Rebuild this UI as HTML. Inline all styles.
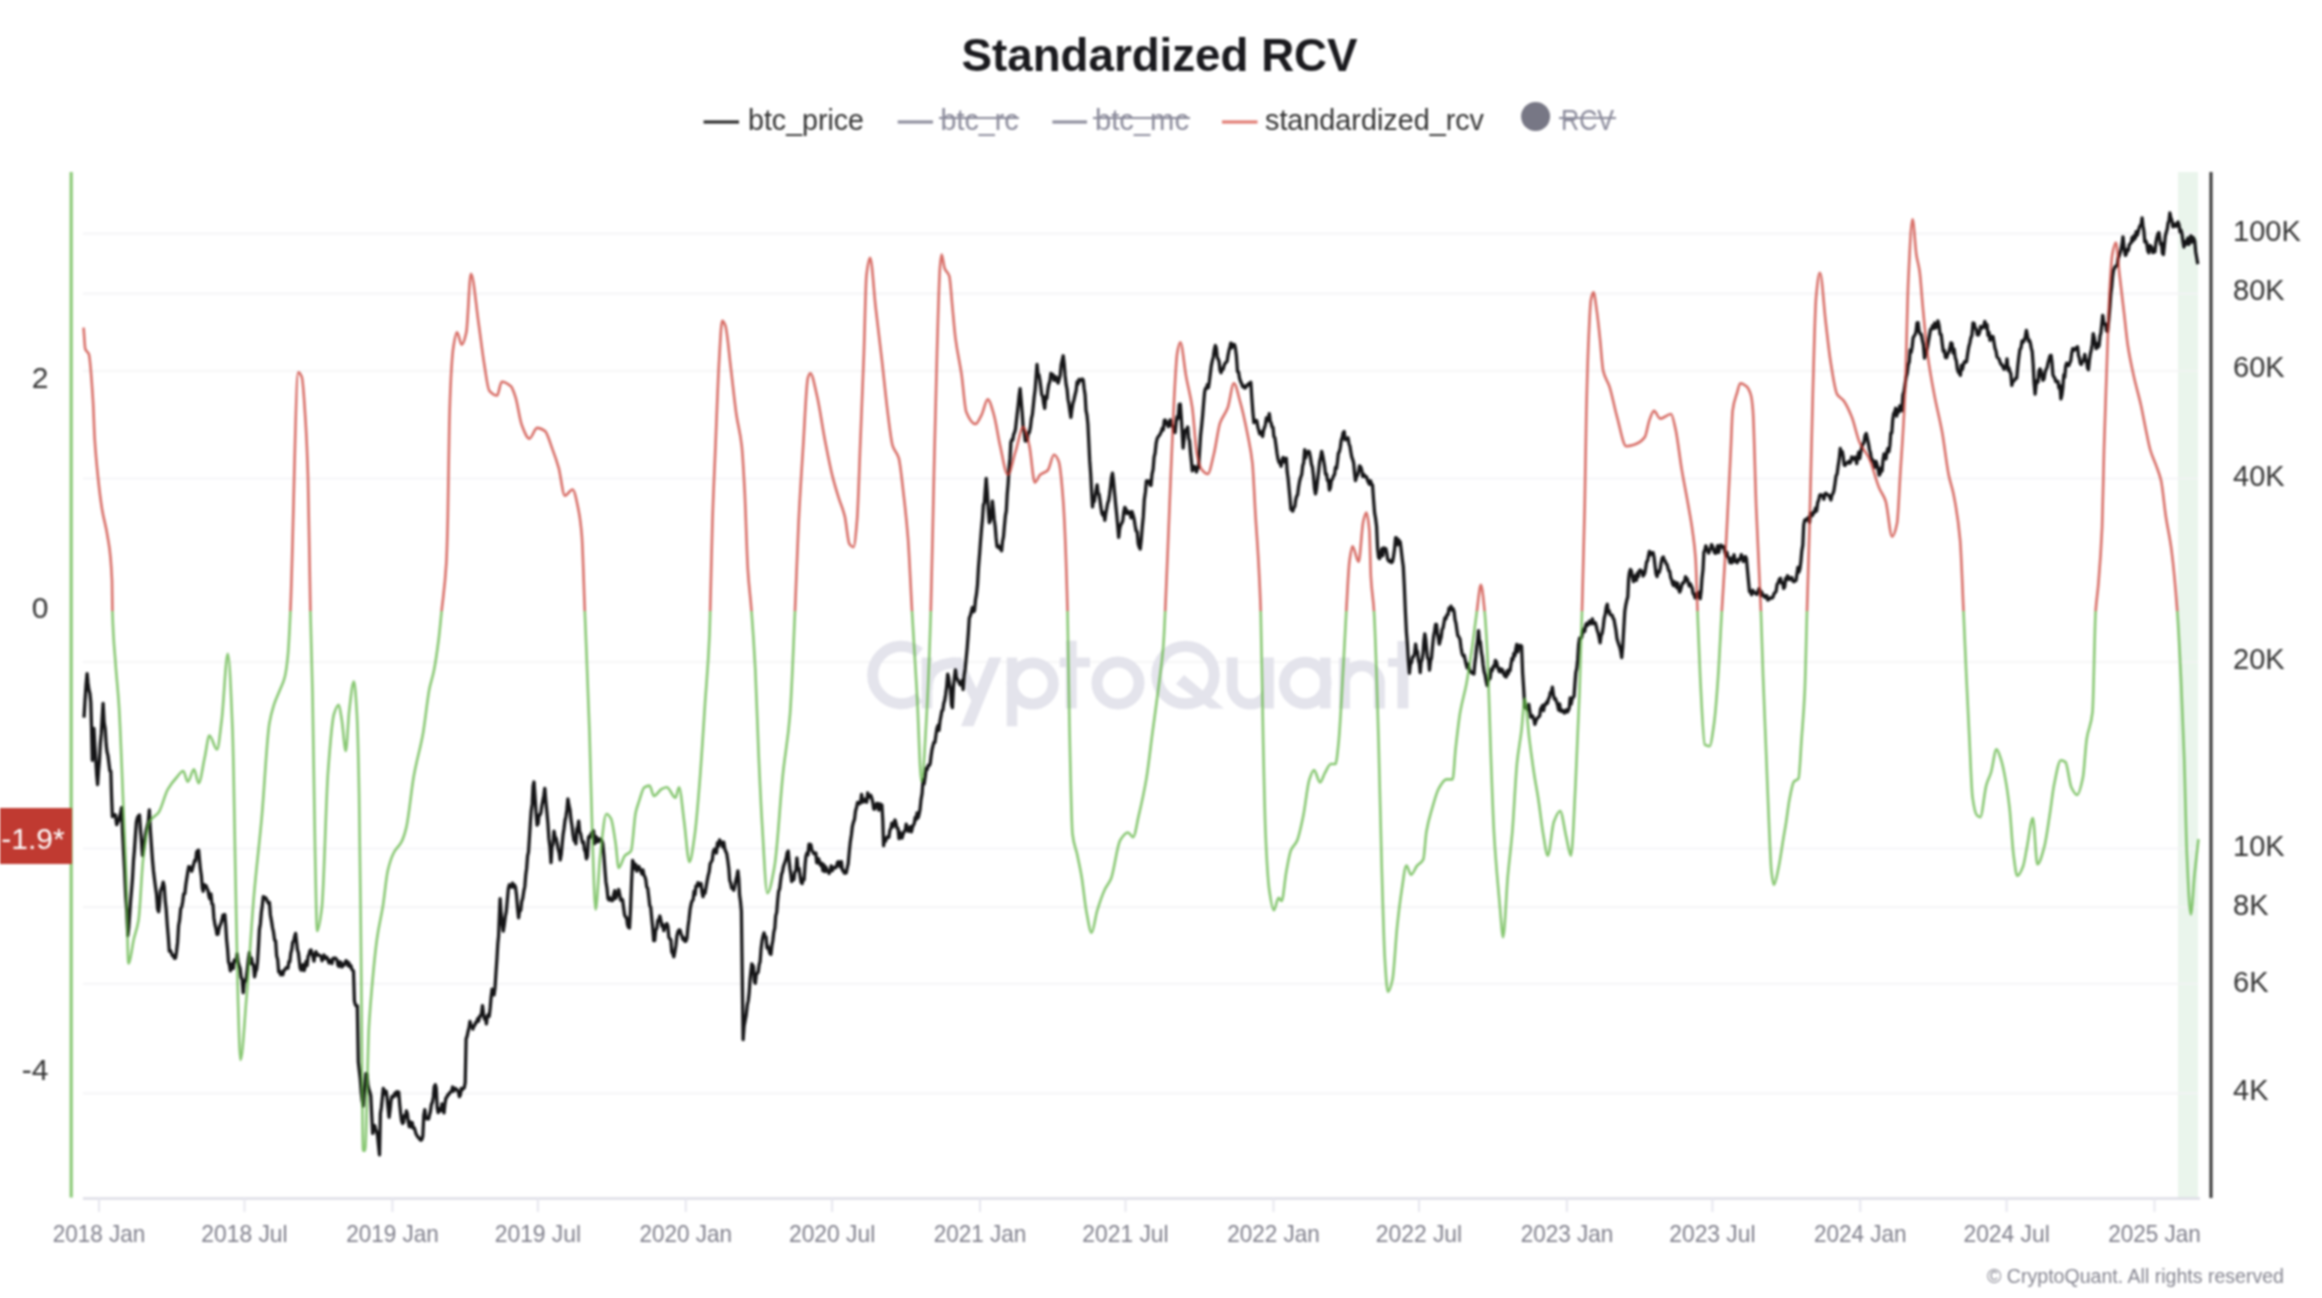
<!DOCTYPE html><html><head><meta charset="utf-8"><title>Standardized RCV</title>
<style>html,body{margin:0;padding:0;background:#fff;}body{width:2322px;height:1298px;overflow:hidden;}svg{display:block;font-family:"Liberation Sans",sans-serif;}#wrap{filter:blur(1px);width:2322px;height:1298px;}</style></head><body>
<div id="wrap">
<svg width="2322" height="1298" viewBox="0 0 2322 1298">
<defs><clipPath id="above"><rect x="0" y="0" width="2322" height="611"/></clipPath><clipPath id="below"><rect x="0" y="611" width="2322" height="700"/></clipPath></defs>
<rect x="0" y="0" width="2322" height="1298" fill="#ffffff"/>
<text x="1159.6" y="71.2" text-anchor="middle" font-size="46" font-weight="bold" fill="#1a1a1e" textLength="396" lengthAdjust="spacingAndGlyphs">Standardized RCV</text>
<g font-size="30">
<line x1="703.6" y1="122" x2="739" y2="122" stroke="#222" stroke-width="3"/>
<text x="748" y="130.4" fill="#333" textLength="116" lengthAdjust="spacingAndGlyphs">btc_price</text>
<line x1="897.7" y1="122" x2="933" y2="122" stroke="#8a8a9a" stroke-width="3"/>
<text x="940.5" y="130.4" fill="#8a8a9a" textLength="78" lengthAdjust="spacingAndGlyphs">btc_rc</text>
<line x1="939" y1="118" x2="1019" y2="118" stroke="#8a8a9a" stroke-width="2"/>
<line x1="1052.4" y1="122" x2="1087" y2="122" stroke="#8a8a9a" stroke-width="3"/>
<text x="1095" y="130.4" fill="#8a8a9a" textLength="94" lengthAdjust="spacingAndGlyphs">btc_mc</text>
<line x1="1093" y1="118" x2="1190" y2="118" stroke="#8a8a9a" stroke-width="2"/>
<line x1="1222" y1="122" x2="1257.5" y2="122" stroke="#e0766d" stroke-width="3"/>
<text x="1265" y="130.4" fill="#333" textLength="219" lengthAdjust="spacingAndGlyphs">standardized_rcv</text>
<circle cx="1535.6" cy="116.5" r="14.5" fill="#777785"/>
<text x="1561" y="130.4" fill="#8a8a9a" textLength="53" lengthAdjust="spacingAndGlyphs">RCV</text>
<line x1="1559" y1="118" x2="1616" y2="118" stroke="#8a8a9a" stroke-width="2"/>
</g>
<rect x="2178" y="172" width="20" height="1026" fill="#eaf5ec"/>
<line x1="83" y1="233.6" x2="2198" y2="233.6" stroke="#f3f3f5" stroke-width="1.6"/>
<line x1="83" y1="293.6" x2="2198" y2="293.6" stroke="#f3f3f5" stroke-width="1.6"/>
<line x1="83" y1="371" x2="2198" y2="371" stroke="#f3f3f5" stroke-width="1.6"/>
<line x1="83" y1="478.5" x2="2198" y2="478.5" stroke="#f3f3f5" stroke-width="1.6"/>
<line x1="83" y1="662" x2="2198" y2="662" stroke="#f3f3f5" stroke-width="1.6"/>
<line x1="83" y1="848.5" x2="2198" y2="848.5" stroke="#f3f3f5" stroke-width="1.6"/>
<line x1="83" y1="907.1" x2="2198" y2="907.1" stroke="#f3f3f5" stroke-width="1.6"/>
<line x1="83" y1="983.8" x2="2198" y2="983.8" stroke="#f3f3f5" stroke-width="1.6"/>
<line x1="83" y1="1093.4" x2="2198" y2="1093.4" stroke="#f3f3f5" stroke-width="1.6"/>
<g fill="#e4e4ec" stroke="none"><rect x="921.7" y="657.6" width="10.5" height="50.8"/><rect x="1006.8" y="657.6" width="10.4" height="68.7"/><rect x="1065.8" y="640.7" width="10.9" height="67.7"/><rect x="1059.8" y="657.6" width="30.2" height="9.6"/><rect x="1319.9" y="657.6" width="10.6" height="50.8"/><rect x="1339.0" y="657.6" width="10.8" height="50.8"/><rect x="1397.4" y="641.0" width="11.0" height="67.4"/><rect x="1388.0" y="658.2" width="24.0" height="8.6"/><polygon points="950,657.6 961.5,657.6 982,700 976.5,711"/><polygon points="989,657.6 1001.5,657.6 973.5,726.3 961,726.3"/><polygon points="1176,684 1184,675 1224,708.6 1210,708.6"/></g>
<g fill="none" stroke="#e4e4ec" stroke-width="11"><path d="M919.5,652.5 A28.8,28.8 0 1 0 919.5,697.5"/><path d="M927,690 C927,672 936,663 956,663"/><circle cx="1032.7" cy="683.5" r="20.5"/><circle cx="1118" cy="683" r="21"/><circle cx="1185.5" cy="675" r="28.7"/><path d="M1232.2,657.6 V686 A18.1,18.1 0 0 0 1268.4,686 M1268.4,657.6 V708.4"/><circle cx="1305.2" cy="683" r="20.8"/><path d="M1344.4,708.4 V681.5 A17.6,17.6 0 0 1 1379.4,681.5 V708.4"/></g>
<polyline points="84.0,717.6 85.0,700.8 86.1,684.4 87.1,673.7 88.0,683.0 88.9,689.8 89.9,693.5 90.8,702.4 91.5,725.5 92.3,760.3 93.1,744.6 93.9,728.3 94.8,745.1 95.8,759.9 96.7,774.9 97.6,784.5 98.5,771.5 99.4,760.8 100.3,744.0 101.3,733.7 102.2,717.5 103.1,703.4 104.1,722.3 105.2,728.9 106.2,745.0 107.1,752.2 108.0,755.7 109.0,763.9 109.9,771.1 110.8,771.1 111.6,796.9 112.4,816.6 113.4,814.8 114.4,814.7 115.4,814.9 116.7,824.7 117.9,821.8 118.8,820.3 119.8,815.9 120.7,812.8 121.6,807.6 122.6,833.0 123.7,853.8 124.7,872.5 125.7,895.8 126.8,911.4 127.8,935.5 128.7,927.8 129.7,913.9 130.6,901.0 131.5,890.9 132.5,878.5 133.5,860.5 134.4,850.5 135.4,835.9 136.4,822.2 137.4,817.8 138.5,815.9 139.5,815.0 140.5,829.7 141.5,841.9 142.5,855.4 143.5,848.9 144.4,842.8 145.4,835.0 146.4,829.4 147.4,825.3 148.3,821.9 149.3,809.9 150.3,829.7 151.4,845.0 152.4,859.2 153.4,870.2 154.5,879.4 155.5,887.0 156.5,894.0 157.6,909.0 158.6,911.7 159.5,904.9 160.4,891.5 161.4,888.6 162.3,886.2 163.2,882.1 164.2,886.7 165.2,900.6 166.2,909.6 167.3,925.3 168.3,936.9 169.3,951.2 170.3,950.5 171.4,953.0 172.4,955.6 173.4,955.5 174.5,958.4 175.5,957.9 176.5,951.7 177.6,942.2 178.6,925.5 179.6,920.3 180.7,908.6 181.7,907.0 182.7,901.7 183.7,893.8 184.8,893.7 185.8,884.8 186.8,878.3 187.8,871.9 188.8,866.6 189.8,868.2 190.7,867.3 191.7,871.2 192.7,867.8 193.7,864.1 194.7,860.5 195.7,860.8 196.6,852.1 197.6,850.9 198.6,850.2 199.5,860.0 200.4,869.1 201.4,876.1 202.3,888.0 203.2,891.2 204.2,884.6 205.1,887.0 206.1,885.8 207.1,888.8 208.0,890.4 209.0,896.3 209.9,898.9 210.9,893.9 211.9,903.8 212.9,904.4 213.9,917.9 215.0,924.8 216.0,928.5 217.0,934.4 218.0,934.1 218.9,929.4 219.9,925.7 220.9,923.6 221.9,920.3 222.9,915.2 223.8,919.7 224.8,914.5 225.7,925.2 226.6,939.6 227.6,949.7 228.5,962.0 229.4,964.3 230.4,970.8 231.3,964.0 232.3,963.7 233.2,968.5 234.2,960.1 235.2,961.2 236.1,960.7 237.1,954.0 238.1,961.9 239.1,965.4 240.1,968.4 241.2,977.7 242.2,979.4 243.2,992.6 244.2,981.9 245.3,981.3 246.3,977.6 247.3,969.4 248.4,959.1 249.4,952.6 250.4,963.3 251.5,958.0 252.5,964.2 253.5,964.7 254.6,976.8 255.6,971.6 256.6,969.5 257.5,962.0 258.5,946.6 259.4,929.6 260.4,923.7 261.4,912.2 262.3,905.6 263.3,896.6 264.3,898.6 265.3,897.4 266.4,899.0 267.4,901.2 268.4,903.2 269.4,902.4 270.4,915.0 271.5,921.0 272.5,927.5 273.5,932.0 274.6,940.1 275.6,940.9 276.6,955.7 277.7,959.6 278.7,971.8 279.7,971.2 280.7,974.7 281.8,972.2 282.8,974.8 283.8,970.3 284.8,970.1 285.9,968.0 286.9,967.5 287.9,968.2 288.9,961.7 289.8,961.8 290.8,953.1 291.8,949.5 292.7,942.2 293.7,941.2 294.6,936.7 295.6,933.4 296.5,941.5 297.4,949.5 298.4,952.9 299.3,960.6 300.2,968.3 301.2,970.1 302.2,969.2 303.1,964.6 304.1,970.6 305.1,967.2 306.1,961.4 307.1,965.5 308.1,956.5 309.0,954.3 310.0,950.6 311.0,949.9 312.0,953.7 313.0,956.7 314.0,961.1 315.0,954.1 316.0,951.7 317.0,955.2 318.0,954.6 319.0,955.1 320.0,955.8 321.0,956.2 322.0,960.7 323.0,958.7 324.0,955.0 325.0,958.3 326.0,957.2 327.0,957.4 328.0,960.5 329.0,963.0 330.0,960.2 331.0,961.2 332.0,963.5 333.0,958.3 334.0,958.8 335.0,958.0 336.0,958.6 337.0,960.0 338.0,965.4 339.0,966.4 340.0,961.9 341.0,962.5 342.0,967.0 343.0,964.8 344.0,965.0 345.0,962.9 346.0,960.7 347.0,961.3 348.0,965.5 348.9,962.9 349.8,966.6 350.8,965.4 351.7,969.0 352.6,970.2 353.5,971.2 354.4,1000.8 355.4,1004.8 356.3,1006.0 357.3,1005.9 358.3,1061.7 359.3,1070.7 360.2,1078.4 361.2,1092.1 362.1,1100.4 363.1,1106.0 364.1,1093.5 365.0,1083.8 366.0,1073.6 367.0,1074.2 367.9,1084.8 368.9,1089.2 369.8,1092.0 370.8,1096.0 371.8,1116.4 372.7,1133.4 373.7,1127.3 374.7,1125.6 375.6,1129.0 376.6,1131.7 377.6,1136.0 378.5,1145.1 379.5,1154.8 380.4,1113.5 381.4,1107.2 382.3,1098.3 383.3,1088.5 384.3,1090.6 385.2,1093.9 386.2,1091.2 387.2,1098.4 388.1,1107.8 389.1,1117.4 390.1,1109.6 391.0,1100.9 392.0,1096.4 392.9,1096.0 393.9,1096.7 394.9,1093.2 395.8,1094.5 396.8,1091.7 397.8,1096.0 398.7,1092.0 399.7,1104.3 400.6,1112.8 401.6,1120.8 402.6,1123.5 403.5,1122.5 404.5,1115.3 405.4,1117.0 406.4,1111.0 407.4,1113.9 408.3,1121.9 409.3,1126.6 410.3,1121.9 411.2,1126.9 412.2,1122.6 413.1,1128.1 414.1,1127.6 415.1,1130.3 416.1,1134.1 417.1,1135.6 418.0,1137.2 419.0,1137.7 419.9,1139.5 420.9,1140.3 421.8,1139.5 422.8,1136.2 423.8,1115.4 424.8,1109.7 425.7,1116.7 426.7,1118.7 427.6,1117.7 428.6,1119.0 429.6,1114.5 430.5,1111.0 431.4,1104.5 432.4,1102.3 433.4,1097.0 434.3,1086.5 435.3,1084.7 436.2,1088.0 437.2,1107.7 438.2,1112.6 439.1,1108.6 440.1,1110.7 441.1,1110.6 442.0,1103.8 443.0,1109.1 444.0,1112.9 444.9,1104.0 445.9,1098.1 446.9,1097.2 447.9,1094.6 448.8,1094.5 449.8,1092.5 450.7,1092.1 451.7,1090.9 452.6,1087.0 453.6,1091.1 454.6,1088.4 455.5,1088.5 456.5,1089.4 457.4,1090.4 458.4,1092.0 459.4,1096.7 460.4,1094.8 461.3,1088.4 462.3,1089.7 463.3,1088.4 464.2,1087.9 465.2,1082.6 466.1,1038.9 467.1,1036.1 468.1,1031.3 469.0,1028.0 470.0,1021.5 471.0,1025.8 471.9,1025.8 472.9,1029.1 473.8,1026.1 474.8,1025.2 475.8,1022.4 476.7,1022.2 477.7,1018.6 478.6,1021.1 479.6,1016.4 480.6,1016.0 481.5,1013.2 482.5,1005.7 483.5,1013.8 484.4,1019.0 485.4,1017.3 486.4,1023.9 487.3,1016.6 488.3,1014.5 489.2,1016.4 490.2,1007.9 491.1,997.3 492.1,989.1 493.1,991.0 494.0,994.9 495.0,987.9 496.0,972.2 497.0,957.6 497.8,943.9 498.6,935.8 499.4,915.4 500.1,898.7 501.1,913.5 502.2,923.2 503.2,931.1 504.2,925.2 505.3,916.5 506.3,911.4 507.3,900.4 508.4,888.2 509.4,884.8 510.4,885.5 511.4,887.1 512.5,883.2 513.5,887.1 514.5,885.1 515.5,887.3 516.5,895.0 517.6,908.5 518.6,917.8 519.6,910.0 520.7,910.3 521.7,901.6 522.7,898.4 523.8,891.2 524.8,886.5 525.7,875.3 526.6,868.5 527.6,855.9 528.5,852.0 529.4,838.2 530.3,823.5 531.2,810.9 532.2,803.9 533.1,785.8 534.0,782.0 535.0,796.4 536.1,813.6 537.1,825.0 538.1,823.6 539.0,815.1 540.0,815.0 541.0,812.1 541.9,805.5 542.9,800.4 543.8,795.5 544.8,788.3 545.8,800.9 546.9,812.0 547.9,823.1 548.9,838.9 550.0,847.1 551.0,862.7 552.0,847.0 553.0,844.2 554.0,831.2 555.0,836.7 556.1,838.4 557.1,843.1 558.1,848.9 559.2,852.8 560.2,859.9 561.2,854.5 562.1,844.6 563.1,834.4 564.0,828.8 565.0,820.5 566.0,816.3 566.9,809.7 567.9,798.9 568.9,805.2 570.0,809.9 571.0,819.9 572.0,825.7 573.1,835.2 574.1,840.8 575.0,838.3 575.9,843.9 576.9,828.7 577.8,827.0 578.7,821.1 579.7,831.8 580.6,833.5 581.6,838.8 582.5,842.5 583.5,841.9 584.5,849.8 585.4,851.7 586.4,858.8 587.4,856.2 588.5,837.2 589.5,836.0 590.5,837.1 591.5,833.0 592.6,835.2 593.6,830.9 594.6,843.7 595.6,836.4 596.7,837.4 597.7,841.8 598.7,841.2 599.8,839.0 600.8,839.6 601.8,840.6 602.8,843.8 603.9,855.4 604.9,869.1 605.9,881.7 607.0,888.6 608.0,898.6 609.0,899.9 609.9,897.8 610.9,899.8 611.9,900.7 612.9,900.3 613.8,894.1 614.8,890.6 615.8,898.4 616.8,894.1 617.7,894.8 618.7,889.5 619.7,894.5 620.7,900.1 621.6,899.1 622.6,900.0 623.6,907.7 624.6,915.0 625.6,917.0 626.6,917.6 627.5,924.7 628.5,927.3 629.5,928.0 630.5,910.2 631.6,881.7 632.6,860.5 633.7,863.2 634.7,868.6 635.8,864.5 636.8,871.2 637.9,867.2 638.9,866.6 640.0,869.3 641.0,871.5 641.9,874.0 642.9,869.9 643.9,874.9 644.8,876.6 645.8,879.7 646.7,887.1 647.7,888.1 648.7,896.4 649.7,905.4 650.7,907.3 651.7,918.0 652.7,927.8 653.7,940.5 654.7,940.5 655.7,930.2 656.8,928.3 657.8,920.8 658.9,919.2 659.9,916.0 660.9,920.6 661.9,926.1 662.9,924.5 663.8,930.7 664.8,927.0 665.8,926.9 666.8,923.6 667.8,926.0 668.8,936.9 669.8,938.9 670.8,939.6 671.8,952.0 672.8,953.6 673.8,956.8 674.8,952.1 675.9,945.3 676.9,936.1 678.0,931.7 679.0,930.0 680.0,930.1 681.0,933.8 682.0,936.1 682.9,939.2 683.9,938.0 684.9,941.3 685.9,941.1 686.9,938.5 688.0,926.9 689.0,919.4 690.1,909.2 691.1,904.1 692.1,900.8 693.1,899.8 694.1,891.2 695.0,894.7 696.0,886.0 697.0,886.2 698.0,882.6 699.0,885.6 700.0,884.9 701.0,883.4 702.0,892.1 703.0,896.7 704.0,890.9 705.0,893.2 706.0,887.4 707.1,881.3 708.1,875.9 709.2,871.7 710.2,863.6 711.2,862.0 712.3,859.9 713.3,851.6 714.4,849.1 715.4,850.4 716.4,853.0 717.5,842.8 718.5,846.3 719.6,840.0 720.6,841.8 721.6,842.9 722.7,846.9 723.7,842.1 724.8,849.1 725.8,851.5 726.8,853.9 727.8,860.4 728.8,868.4 729.7,880.3 730.7,883.1 731.7,888.1 732.7,887.5 733.7,890.3 734.8,885.8 735.8,880.9 736.9,876.1 737.9,870.9 738.8,879.1 739.6,895.3 740.5,901.5 741.4,911.4 742.2,972.0 743.1,1039.6 744.1,1026.1 745.2,1020.2 746.2,1014.9 747.3,1005.0 748.3,1000.5 749.2,992.3 750.0,980.0 750.9,971.4 751.8,963.9 752.7,965.2 753.5,967.0 754.4,981.3 755.3,983.2 756.3,974.2 757.2,973.4 758.2,972.0 759.2,964.5 760.1,961.7 761.1,948.5 762.1,940.6 763.0,936.2 764.0,932.9 765.0,936.7 766.0,936.9 767.0,947.9 767.9,946.2 768.9,949.8 769.9,953.3 770.9,954.3 771.9,945.5 772.8,940.8 773.8,932.1 774.8,928.1 775.7,915.9 776.7,912.4 777.7,900.0 778.6,891.3 779.6,889.0 780.6,880.9 781.5,874.4 782.5,871.7 783.4,866.8 784.4,863.7 785.3,861.2 786.3,857.7 787.2,852.6 788.2,851.1 789.1,860.8 790.0,868.8 790.8,873.9 791.7,881.6 792.7,879.7 793.8,879.7 794.8,872.0 795.9,870.8 796.9,858.0 797.9,868.2 799.0,868.3 800.0,875.2 801.1,882.2 802.1,883.6 803.1,879.0 804.1,879.7 805.1,864.4 806.0,855.9 807.0,852.9 808.0,854.9 809.0,844.2 810.0,844.3 810.9,844.8 811.9,850.5 812.9,851.8 813.8,853.7 814.8,854.0 815.8,852.9 816.7,862.6 817.7,862.9 818.7,858.8 819.8,863.5 820.8,865.5 821.9,863.2 822.9,870.8 823.9,864.8 825.0,871.6 826.0,867.2 827.1,870.9 828.1,870.7 829.1,873.5 830.2,870.7 831.2,865.8 832.3,870.6 833.3,867.8 834.3,867.3 835.4,867.9 836.4,866.9 837.5,862.4 838.5,861.7 839.5,865.3 840.4,867.1 841.4,861.6 842.4,870.4 843.3,870.2 844.3,873.1 845.3,873.0 846.2,872.9 847.2,868.0 848.2,863.6 849.3,851.4 850.3,841.9 851.4,834.8 852.4,826.3 853.4,822.3 854.5,819.4 855.5,811.0 856.6,807.2 857.6,802.4 858.6,802.6 859.6,803.7 860.6,802.5 861.6,794.3 862.6,802.2 863.7,801.8 864.7,799.2 865.7,801.0 866.7,802.2 867.7,792.9 868.7,797.5 869.7,796.3 870.7,795.2 871.7,797.9 872.8,802.3 873.8,809.1 874.8,809.0 875.8,805.9 876.8,803.4 877.8,803.7 878.9,810.1 879.9,803.9 880.9,806.8 881.9,805.0 882.8,820.5 883.6,845.7 884.6,838.8 885.7,841.0 886.7,837.4 887.8,836.7 888.8,837.4 889.8,830.7 890.9,828.2 891.9,823.1 893.0,826.8 894.0,823.0 895.0,820.0 896.0,823.7 897.0,828.1 898.0,828.3 899.0,838.7 900.0,832.2 901.0,837.7 902.0,838.0 903.1,834.1 904.1,831.6 905.2,830.5 906.2,824.1 907.2,827.7 908.3,831.3 909.3,829.0 910.4,826.6 911.4,831.9 912.4,827.3 913.3,825.3 914.3,823.5 915.2,817.5 916.2,819.6 917.1,812.8 918.1,817.8 919.0,814.5 920.0,809.7 921.0,799.9 922.1,793.4 923.1,779.7 924.1,783.9 925.2,776.8 926.2,768.4 927.2,769.3 928.3,765.3 929.3,765.4 930.2,763.6 931.1,756.0 932.1,749.3 933.0,745.6 933.9,742.4 934.9,742.4 936.0,734.5 937.0,728.1 938.0,725.5 939.0,730.3 940.0,721.0 940.9,716.4 941.9,710.7 942.8,710.3 943.8,703.3 944.7,700.4 945.7,694.3 946.7,686.1 947.7,674.1 948.6,677.7 949.6,685.1 950.5,689.3 951.5,704.5 952.4,707.6 953.4,687.0 954.4,677.9 955.4,669.8 956.4,676.8 957.3,678.9 958.3,681.0 959.2,682.6 960.2,684.9 961.2,684.3 962.1,680.4 963.1,689.5 964.1,675.8 965.2,668.7 966.2,658.2 967.2,647.8 968.3,633.5 969.3,617.9 970.3,615.7 971.4,611.5 972.4,607.5 973.4,611.7 974.5,610.7 975.5,599.7 976.5,593.9 977.5,584.6 978.5,567.2 979.6,553.8 980.6,540.3 981.6,528.0 982.5,519.0 983.4,505.0 984.4,502.6 985.3,489.8 986.2,478.4 987.2,491.3 988.3,509.3 989.3,522.7 990.3,520.8 991.4,514.5 992.4,501.2 993.3,509.4 994.2,519.2 995.2,526.4 996.1,537.9 997.0,546.4 997.9,547.1 998.8,546.0 999.8,548.7 1000.7,548.7 1001.6,550.8 1002.5,541.5 1003.5,536.7 1004.4,526.1 1005.4,515.6 1006.3,510.9 1007.2,494.3 1008.1,484.1 1009.1,467.6 1010.0,458.2 1010.9,442.2 1011.8,439.7 1012.7,440.0 1013.7,434.2 1014.6,432.4 1015.5,429.0 1016.4,420.7 1017.3,412.8 1018.3,404.1 1019.2,394.9 1020.1,388.7 1021.1,400.0 1022.2,412.9 1023.2,428.1 1024.2,431.4 1025.3,441.0 1026.3,440.6 1027.3,440.4 1028.3,432.6 1029.3,432.7 1030.4,427.4 1031.4,418.7 1032.4,414.3 1033.3,405.8 1034.2,396.9 1035.2,389.1 1036.1,376.8 1037.0,364.5 1038.0,374.1 1038.9,374.6 1039.9,380.2 1040.8,387.0 1041.8,394.9 1042.8,396.5 1043.7,403.2 1044.7,408.4 1045.7,396.5 1046.8,398.5 1047.8,390.2 1048.8,384.4 1049.9,381.1 1050.9,373.5 1051.9,375.4 1053.0,374.6 1054.0,380.3 1055.0,376.9 1056.1,377.0 1057.1,381.2 1058.1,383.0 1059.1,379.7 1060.2,375.3 1061.2,364.7 1062.2,360.2 1063.2,355.8 1064.2,364.2 1065.1,375.5 1066.1,384.4 1067.1,389.5 1068.0,399.2 1069.0,404.2 1069.9,411.1 1070.9,417.4 1071.9,409.4 1073.0,402.9 1074.0,399.7 1075.0,395.2 1076.1,390.6 1077.1,381.9 1078.1,383.9 1079.1,379.3 1080.2,380.6 1081.2,380.3 1082.2,379.1 1083.2,380.0 1084.1,388.3 1085.1,395.0 1086.0,410.4 1087.0,415.3 1087.9,424.1 1088.8,442.0 1089.7,460.4 1090.7,474.1 1091.6,491.9 1092.5,506.9 1093.4,500.5 1094.3,501.4 1095.3,494.9 1096.2,489.6 1097.1,484.8 1098.1,493.4 1099.0,494.1 1100.0,500.5 1100.9,506.9 1101.9,513.2 1102.9,515.2 1103.8,512.5 1104.8,520.3 1105.8,513.3 1106.7,508.8 1107.7,503.2 1108.7,500.4 1109.6,494.5 1110.6,486.3 1111.5,477.3 1112.5,473.1 1113.5,481.3 1114.6,493.2 1115.6,504.0 1116.6,513.6 1117.7,525.7 1118.7,537.4 1119.7,528.6 1120.7,524.9 1121.8,523.2 1122.8,520.6 1123.8,511.9 1124.8,507.3 1125.8,508.9 1126.9,513.5 1127.9,511.5 1128.9,513.4 1130.0,512.2 1131.0,517.8 1132.0,511.6 1133.1,515.3 1134.1,518.9 1135.1,525.5 1136.1,530.9 1137.2,531.8 1138.2,543.6 1139.2,547.0 1140.2,549.0 1141.2,540.1 1142.3,526.5 1143.3,516.7 1144.3,499.7 1145.4,492.0 1146.4,480.8 1147.3,480.9 1148.2,482.1 1149.2,480.9 1150.1,485.0 1151.0,485.4 1152.0,474.4 1153.1,469.3 1154.1,457.2 1155.1,453.0 1156.2,442.8 1157.2,438.5 1158.2,436.7 1159.2,435.7 1160.3,433.7 1161.3,431.6 1162.3,428.1 1163.3,429.9 1164.4,420.2 1165.4,420.1 1166.4,423.7 1167.4,422.9 1168.3,426.7 1169.3,422.1 1170.2,419.9 1171.2,425.5 1172.2,426.0 1173.1,426.8 1174.1,431.6 1175.1,432.4 1176.2,421.6 1177.2,416.6 1178.2,418.4 1179.3,404.4 1180.3,404.2 1181.2,416.6 1182.2,432.7 1183.1,448.0 1184.0,440.7 1184.9,431.6 1185.9,429.6 1186.8,431.0 1187.7,427.0 1188.6,438.3 1189.5,440.8 1190.5,452.5 1191.4,461.0 1192.3,470.8 1193.3,469.0 1194.4,466.4 1195.4,466.9 1196.4,472.0 1197.5,468.2 1198.5,468.0 1199.5,452.8 1200.6,435.3 1201.6,426.3 1202.6,416.0 1203.6,403.7 1204.6,392.1 1205.5,388.4 1206.5,388.3 1207.4,384.6 1208.4,387.7 1209.3,381.9 1210.3,373.8 1211.3,365.6 1212.3,360.9 1213.3,357.1 1214.4,349.2 1215.4,345.5 1216.3,348.2 1217.2,357.1 1218.2,359.2 1219.1,361.6 1220.0,369.9 1221.0,372.8 1222.1,368.9 1223.1,369.2 1224.1,365.5 1225.2,363.1 1226.2,362.3 1227.1,361.2 1228.0,355.4 1229.0,350.5 1229.9,347.1 1230.8,343.1 1231.7,347.8 1232.6,344.2 1233.6,345.3 1234.5,344.7 1235.4,348.1 1236.4,355.9 1237.5,371.6 1238.5,371.8 1239.5,378.0 1240.6,381.6 1241.6,383.4 1242.6,386.5 1243.7,386.0 1244.7,388.1 1245.7,387.5 1246.7,385.6 1247.8,384.7 1248.8,383.6 1249.8,385.2 1250.8,382.3 1251.8,397.6 1252.9,412.3 1253.9,422.7 1254.9,420.4 1255.8,420.3 1256.8,420.7 1257.8,426.9 1258.7,430.1 1259.7,433.9 1260.6,431.7 1261.6,433.8 1262.6,436.5 1263.5,430.3 1264.5,427.6 1265.4,424.6 1266.4,418.0 1267.4,420.9 1268.3,418.7 1269.3,413.6 1270.2,420.8 1271.1,423.0 1272.1,427.2 1273.0,427.4 1273.9,436.6 1274.9,437.8 1276.0,445.5 1277.0,453.3 1278.0,459.0 1279.1,462.6 1280.1,463.2 1281.1,466.3 1282.2,459.6 1283.2,457.4 1284.2,462.0 1285.3,459.1 1286.3,458.3 1287.2,472.1 1288.1,478.3 1289.1,489.2 1290.0,498.3 1290.9,509.3 1291.9,510.1 1292.8,511.1 1293.8,507.7 1294.8,506.5 1295.7,499.8 1296.7,496.1 1297.6,494.9 1298.6,487.0 1299.6,481.2 1300.6,477.5 1301.7,474.6 1302.7,465.7 1303.7,462.7 1304.7,449.7 1305.6,457.9 1306.6,452.4 1307.5,453.5 1308.5,451.3 1309.4,452.1 1310.4,457.2 1311.4,464.0 1312.5,467.6 1313.5,476.4 1314.5,488.4 1315.5,493.9 1316.5,489.2 1317.6,479.4 1318.6,471.5 1319.6,462.1 1320.7,456.9 1321.7,451.4 1322.7,455.6 1323.6,460.5 1324.6,466.4 1325.6,474.4 1326.5,474.1 1327.5,480.5 1328.4,480.0 1329.4,490.0 1330.4,487.9 1331.4,480.2 1332.5,479.1 1333.5,475.7 1334.5,474.9 1335.5,467.3 1336.5,468.5 1337.4,462.0 1338.4,453.0 1339.3,451.9 1340.3,447.3 1341.3,440.1 1342.2,437.6 1343.2,432.6 1344.2,431.6 1345.1,439.8 1346.1,439.1 1347.1,438.4 1348.0,437.8 1349.0,443.8 1349.9,446.0 1350.9,452.2 1351.8,457.1 1352.7,459.5 1353.7,463.4 1354.6,473.5 1355.5,480.7 1356.5,476.6 1357.6,475.2 1358.6,470.8 1359.6,465.8 1360.7,466.9 1361.7,470.1 1362.7,476.4 1363.7,474.2 1364.6,476.5 1365.6,476.1 1366.6,477.1 1367.6,480.4 1368.6,482.9 1369.6,484.4 1370.5,480.8 1371.5,484.0 1372.5,484.9 1373.5,499.0 1374.6,512.9 1375.6,518.5 1376.6,526.6 1377.6,548.4 1378.6,557.4 1379.6,558.6 1380.7,555.3 1381.7,548.9 1382.7,555.7 1383.8,547.8 1384.8,548.7 1385.8,548.6 1386.7,552.7 1387.7,559.2 1388.7,561.0 1389.6,561.6 1390.6,560.6 1391.5,562.6 1392.5,561.6 1393.5,556.6 1394.6,548.6 1395.6,537.7 1396.5,537.9 1397.4,544.8 1398.4,539.7 1399.3,541.1 1400.2,542.0 1401.2,550.0 1402.3,559.4 1403.3,566.8 1404.3,586.0 1405.4,612.0 1406.4,632.1 1407.4,644.4 1408.4,660.8 1409.4,673.2 1410.4,663.9 1411.5,662.6 1412.5,657.1 1413.5,656.8 1414.6,653.4 1415.6,644.2 1416.5,650.2 1417.4,651.7 1418.4,660.4 1419.3,663.6 1420.2,672.5 1421.1,661.7 1422.0,659.9 1423.0,653.8 1423.9,641.0 1424.8,633.8 1425.7,639.1 1426.7,650.1 1427.6,658.1 1428.6,659.4 1429.5,670.0 1430.5,660.9 1431.5,657.9 1432.5,646.7 1433.6,636.3 1434.6,631.0 1435.6,624.4 1436.5,624.5 1437.4,632.7 1438.4,638.5 1439.3,644.2 1440.2,640.3 1441.1,637.2 1442.1,629.4 1443.0,628.1 1444.0,622.8 1444.9,617.8 1445.9,618.8 1446.9,614.8 1448.0,614.8 1449.0,608.2 1450.0,609.7 1451.0,606.2 1452.1,610.0 1453.1,608.8 1454.1,611.7 1455.0,619.6 1455.9,623.1 1456.9,630.0 1457.8,635.8 1458.7,636.6 1460.0,639.3 1461.0,647.3 1462.1,653.6 1463.1,655.7 1464.1,655.2 1465.2,660.0 1466.2,664.7 1467.2,667.9 1468.1,664.2 1469.1,668.6 1470.1,671.6 1471.0,671.7 1472.0,673.1 1472.9,672.7 1473.9,674.0 1474.8,663.8 1475.7,656.7 1476.7,646.9 1477.6,641.3 1478.5,630.7 1479.4,640.8 1480.3,641.7 1481.3,651.9 1482.2,656.8 1483.1,664.9 1484.1,671.8 1485.1,674.9 1486.1,680.8 1487.1,685.5 1488.1,680.5 1489.2,679.3 1490.2,678.0 1491.2,669.1 1492.3,670.7 1493.3,666.3 1494.4,666.8 1495.4,660.5 1496.4,661.7 1497.4,666.0 1498.3,669.1 1499.3,671.6 1500.3,668.6 1501.3,671.9 1502.3,669.5 1503.3,672.0 1504.2,675.2 1505.2,676.4 1506.2,676.9 1507.2,670.8 1508.1,674.1 1509.1,669.8 1510.1,670.6 1511.0,664.3 1512.0,658.4 1512.9,659.8 1513.9,653.5 1514.9,655.7 1515.8,649.2 1516.8,644.3 1517.8,651.9 1518.7,647.7 1519.7,645.5 1520.6,645.5 1521.6,646.2 1522.6,672.5 1523.7,688.9 1524.7,706.7 1525.7,707.9 1526.7,706.8 1527.8,709.6 1528.8,704.3 1529.8,711.4 1530.8,717.2 1531.9,715.4 1532.9,716.5 1533.9,719.5 1534.9,724.4 1535.8,721.3 1536.8,718.9 1537.8,717.6 1538.7,717.0 1539.7,715.9 1540.6,709.0 1541.6,707.5 1542.6,705.4 1543.6,710.6 1544.5,704.7 1545.5,704.8 1546.5,702.3 1547.5,703.2 1548.5,699.0 1549.5,697.0 1550.4,692.3 1551.4,691.6 1552.4,687.1 1553.4,694.9 1554.5,699.1 1555.5,698.8 1556.5,701.5 1557.6,704.9 1558.6,710.0 1559.6,703.9 1560.5,711.0 1561.5,709.7 1562.4,711.4 1563.4,710.7 1564.4,713.1 1565.3,710.8 1566.3,709.8 1567.3,712.0 1568.2,710.8 1569.2,708.1 1570.2,697.8 1571.1,704.1 1572.1,699.0 1573.0,697.4 1574.0,696.4 1574.9,683.8 1575.8,672.5 1576.8,668.2 1577.7,659.4 1578.6,644.6 1579.6,638.1 1580.6,638.6 1581.7,637.1 1582.7,631.5 1583.7,629.1 1584.7,631.5 1585.7,625.4 1586.6,623.4 1587.6,625.4 1588.6,623.7 1589.5,621.1 1590.5,623.5 1591.4,623.8 1592.4,618.9 1593.4,623.3 1594.3,623.7 1595.3,622.8 1596.2,626.0 1597.2,630.2 1598.2,633.1 1599.1,637.2 1600.1,642.8 1601.1,635.4 1602.2,633.3 1603.2,627.0 1604.2,618.4 1605.3,614.2 1606.3,607.1 1607.3,604.2 1608.2,612.1 1609.2,610.8 1610.2,614.8 1611.1,614.9 1612.1,615.1 1613.0,618.0 1614.0,619.5 1615.0,625.1 1615.9,630.0 1616.9,638.2 1617.8,641.5 1618.8,644.6 1619.8,647.2 1620.7,651.0 1621.7,657.5 1622.7,647.2 1623.8,627.8 1624.8,611.2 1625.8,604.8 1626.8,600.3 1627.8,596.8 1628.6,579.4 1629.4,572.8 1630.4,569.5 1631.4,570.9 1632.5,577.0 1633.5,581.6 1634.5,580.0 1635.5,575.7 1636.4,580.3 1637.4,573.1 1638.3,576.7 1639.3,570.7 1640.2,569.9 1641.1,570.9 1642.0,571.4 1643.0,576.0 1643.9,574.8 1644.8,572.8 1645.7,567.6 1646.6,561.9 1647.6,560.7 1648.5,555.9 1649.4,551.4 1650.3,554.9 1651.2,552.6 1652.2,553.0 1653.1,552.8 1654.0,556.8 1655.0,565.4 1656.1,574.2 1657.1,576.5 1658.1,571.3 1659.2,572.4 1660.2,568.8 1661.2,562.5 1662.3,558.0 1663.3,557.0 1664.2,560.1 1665.1,560.9 1666.1,563.7 1667.0,564.3 1667.9,567.8 1668.8,570.9 1669.7,571.3 1670.7,577.7 1671.6,579.7 1672.5,583.5 1673.5,585.6 1674.5,581.8 1675.6,584.1 1676.6,587.5 1677.6,583.0 1678.6,589.0 1679.7,592.1 1680.7,589.7 1681.7,585.6 1682.6,582.9 1683.6,582.9 1684.5,581.2 1685.5,576.8 1686.4,578.0 1687.4,579.2 1688.3,582.8 1689.3,585.9 1690.2,583.7 1691.2,585.9 1692.2,588.4 1693.1,593.5 1694.1,594.7 1695.1,597.9 1696.1,594.0 1697.2,597.1 1698.2,593.6 1699.2,592.3 1700.2,598.7 1701.1,591.4 1702.0,578.2 1703.0,569.6 1703.9,552.3 1704.8,550.4 1705.8,545.9 1706.7,548.2 1707.7,550.9 1708.7,553.1 1709.6,550.3 1710.6,548.4 1711.5,544.6 1712.5,546.2 1713.5,549.6 1714.6,552.7 1715.6,553.2 1716.6,549.5 1717.7,545.7 1718.7,552.5 1719.7,548.2 1720.8,545.1 1721.8,546.2 1722.8,547.4 1723.8,546.5 1724.9,552.2 1725.9,555.5 1726.9,552.3 1727.9,557.0 1729.0,558.2 1730.0,562.7 1731.0,558.1 1732.0,562.8 1733.1,558.3 1734.1,554.8 1735.1,561.4 1736.1,561.4 1737.2,562.8 1738.2,559.5 1739.2,560.2 1740.2,558.5 1741.3,554.7 1742.3,557.4 1743.3,561.5 1744.3,560.2 1745.4,556.6 1746.4,558.5 1747.4,569.3 1748.5,581.3 1749.5,591.6 1750.5,592.2 1751.6,594.7 1752.7,590.3 1753.7,591.7 1754.8,593.1 1755.8,593.4 1756.8,594.4 1757.9,591.3 1759.0,588.7 1760.0,590.1 1760.9,595.7 1761.8,592.1 1762.7,595.4 1763.7,595.1 1764.7,597.2 1765.7,595.9 1766.7,595.6 1767.7,600.0 1768.7,599.6 1769.7,598.2 1770.7,597.9 1771.8,598.1 1772.9,597.2 1774.0,593.7 1775.0,592.8 1776.1,591.3 1777.2,584.0 1778.3,582.8 1779.4,579.1 1780.5,578.3 1781.5,582.8 1782.6,582.6 1783.7,588.5 1784.7,586.9 1785.6,578.3 1786.6,579.9 1787.5,575.8 1788.5,576.9 1789.6,579.5 1790.7,578.7 1791.8,577.6 1792.8,580.7 1793.9,581.7 1795.0,580.9 1796.0,580.5 1797.0,573.7 1797.9,567.5 1798.9,572.1 1799.9,568.8 1800.9,561.1 1801.8,550.9 1802.8,545.1 1803.7,525.0 1804.7,520.1 1805.7,519.5 1806.6,520.2 1807.6,518.2 1808.6,517.4 1809.6,522.3 1810.5,513.2 1811.5,514.0 1812.5,515.5 1813.4,512.2 1814.4,512.5 1815.5,508.2 1816.6,511.0 1817.7,502.5 1818.7,500.2 1819.8,495.0 1820.9,494.7 1821.9,495.6 1822.9,496.3 1823.9,499.3 1824.9,493.8 1825.9,493.2 1826.9,494.4 1827.9,495.0 1828.9,495.3 1829.9,497.5 1830.9,500.0 1831.9,495.1 1832.9,493.6 1833.9,490.7 1835.0,483.6 1836.0,476.1 1837.1,473.9 1838.2,465.4 1839.2,459.3 1840.3,448.5 1841.3,454.4 1842.3,451.5 1843.2,456.6 1844.2,465.1 1845.2,465.3 1846.3,463.3 1847.4,462.8 1848.5,461.6 1849.5,463.2 1850.6,462.3 1851.7,457.0 1852.7,458.6 1853.7,459.2 1854.7,457.3 1855.7,458.3 1856.7,463.6 1857.7,456.3 1858.7,452.3 1859.7,458.5 1860.8,451.7 1861.9,446.5 1863.0,444.0 1864.0,442.5 1865.1,435.5 1866.2,433.5 1867.3,438.2 1868.4,443.1 1869.5,449.6 1870.5,453.0 1871.6,460.3 1872.7,459.8 1873.8,463.1 1874.9,467.3 1876.0,461.3 1877.0,464.5 1878.1,469.2 1879.2,475.2 1880.2,473.4 1881.1,467.8 1882.1,470.9 1883.0,460.3 1884.0,454.0 1885.0,458.5 1886.0,458.9 1886.9,451.7 1887.9,448.4 1888.9,451.7 1889.9,445.2 1890.8,432.9 1891.8,432.9 1892.7,420.2 1893.7,413.5 1894.7,411.9 1895.7,408.3 1896.7,416.0 1897.8,409.6 1898.8,412.1 1899.8,405.8 1900.8,410.1 1901.8,410.7 1902.9,394.7 1904.0,391.5 1905.0,384.6 1906.1,377.2 1907.2,373.4 1908.3,364.4 1909.3,361.9 1910.2,350.0 1911.2,352.2 1912.1,347.5 1913.1,338.1 1914.1,336.1 1915.1,334.6 1916.0,331.9 1917.0,323.1 1918.0,322.6 1919.1,331.1 1920.2,334.0 1921.2,334.1 1922.3,339.9 1923.4,344.8 1924.5,358.0 1925.5,354.4 1926.5,351.2 1927.5,347.1 1928.5,341.3 1929.6,334.9 1930.6,329.3 1931.6,328.9 1932.6,325.7 1933.7,328.5 1934.7,323.0 1935.8,327.8 1936.9,326.9 1937.9,320.9 1939.0,325.1 1940.1,334.2 1941.2,334.6 1942.2,343.2 1943.3,351.3 1944.4,350.4 1945.5,357.6 1946.6,357.7 1947.7,354.1 1948.8,352.2 1949.8,348.5 1950.9,342.8 1952.0,343.4 1953.1,353.0 1954.1,349.0 1955.2,357.4 1956.3,360.7 1957.3,368.7 1958.4,372.4 1959.4,372.9 1960.4,375.3 1961.4,365.4 1962.5,369.3 1963.5,364.2 1964.5,361.8 1965.5,362.3 1966.5,361.7 1967.6,354.0 1968.7,347.2 1969.8,343.1 1970.8,338.0 1971.9,335.4 1973.0,322.8 1974.1,323.5 1975.2,327.9 1976.2,329.3 1977.3,334.8 1978.4,335.0 1979.5,332.6 1980.6,326.5 1981.7,328.4 1982.8,327.4 1983.8,325.7 1984.9,321.5 1986.0,328.0 1987.0,324.7 1988.0,335.4 1989.0,332.4 1990.0,340.3 1991.0,338.8 1992.0,336.4 1993.0,336.6 1994.0,342.6 1995.0,348.4 1996.0,351.0 1997.0,356.9 1998.0,358.0 1999.1,359.2 2000.1,362.2 2001.1,364.5 2002.1,364.8 2003.1,367.3 2004.1,369.2 2005.0,366.5 2006.0,366.8 2007.0,359.0 2008.0,370.1 2008.9,367.9 2009.9,371.7 2010.8,373.7 2011.8,385.3 2012.8,381.1 2013.8,381.2 2014.7,379.8 2015.7,378.1 2016.7,378.1 2017.8,366.2 2018.8,357.4 2019.9,349.5 2021.0,347.8 2022.1,340.8 2023.2,342.2 2024.2,340.3 2025.3,336.6 2026.4,330.3 2027.4,335.5 2028.4,341.0 2029.3,340.1 2030.3,342.9 2031.3,348.1 2032.2,351.7 2033.2,365.0 2034.1,382.8 2035.1,394.2 2036.1,384.5 2037.1,380.6 2038.0,382.1 2039.0,371.0 2040.0,368.9 2041.0,370.9 2042.0,377.1 2043.0,380.2 2044.0,379.0 2045.1,372.2 2046.1,369.3 2047.1,367.4 2048.1,362.7 2049.2,358.6 2050.2,355.6 2051.1,355.4 2052.0,362.5 2052.9,374.7 2053.8,376.8 2054.8,378.0 2055.8,381.5 2056.8,381.4 2057.9,381.3 2058.9,388.0 2059.9,385.7 2060.9,398.8 2061.9,394.8 2062.8,387.8 2063.8,374.7 2064.7,377.3 2065.7,366.1 2066.7,363.1 2067.7,365.4 2068.7,365.6 2069.7,363.1 2070.7,360.9 2071.7,353.2 2072.7,348.7 2073.7,350.4 2074.6,349.5 2075.6,348.1 2076.6,349.6 2077.6,346.8 2078.5,355.4 2079.4,358.1 2080.3,363.2 2081.2,364.5 2082.1,362.4 2083.0,361.6 2083.9,358.5 2084.8,354.3 2085.7,359.0 2086.6,361.6 2087.5,367.6 2088.4,369.7 2089.4,360.1 2090.3,353.9 2091.3,349.8 2092.2,344.4 2093.2,333.6 2094.2,337.4 2095.2,342.7 2096.1,348.7 2097.1,343.7 2098.1,347.2 2099.1,345.4 2100.0,336.0 2100.9,332.9 2101.8,324.4 2102.7,315.3 2103.7,322.1 2104.6,324.1 2105.6,324.2 2106.5,330.7 2107.5,331.5 2108.7,320.5 2109.9,306.6 2110.8,293.9 2111.7,287.0 2112.6,276.4 2113.5,270.3 2114.4,268.2 2115.3,266.5 2116.2,266.1 2117.1,265.8 2118.1,258.4 2119.1,256.1 2120.1,252.8 2121.0,249.3 2122.0,244.7 2123.0,236.8 2124.2,249.0 2125.4,255.4 2126.4,253.4 2127.3,249.4 2128.3,250.4 2129.2,245.2 2130.2,243.5 2131.2,242.8 2132.2,237.3 2133.2,240.7 2134.2,235.7 2135.2,238.5 2136.2,231.6 2137.2,235.3 2138.2,231.8 2139.1,228.1 2140.1,225.5 2141.1,224.8 2142.1,218.0 2143.0,226.0 2143.9,231.1 2144.8,241.9 2145.7,240.8 2146.7,243.0 2147.8,250.7 2148.8,252.8 2149.8,245.7 2150.8,246.0 2151.9,247.9 2152.9,252.6 2153.9,251.6 2154.9,251.9 2155.9,242.9 2156.9,237.4 2157.9,233.9 2158.9,232.5 2159.8,238.7 2160.7,244.5 2161.5,243.1 2162.4,253.1 2163.4,254.5 2164.3,246.3 2165.3,236.2 2166.2,232.5 2167.2,229.3 2168.1,222.8 2169.0,220.5 2169.9,213.0 2170.8,217.8 2171.8,220.2 2172.9,226.8 2173.9,224.2 2174.9,224.2 2175.9,226.4 2177.0,224.2 2178.0,222.0 2179.0,224.7 2180.0,231.9 2180.9,230.0 2181.9,233.5 2182.9,241.1 2183.9,247.0 2184.9,243.2 2185.9,241.2 2186.8,244.0 2187.8,238.2 2188.8,244.4 2189.8,238.9 2190.8,235.9 2191.8,242.2 2192.7,237.2 2193.7,238.4 2194.7,240.9 2195.7,252.0 2196.8,258.3 2197.8,264.1" fill="none" stroke="#151517" stroke-width="3.3" stroke-linejoin="round"/>
<g fill="none" stroke-width="2.6" stroke-linejoin="round"><path d="M83.6,327.6C84.2,334.7 84.7,347.4 85.3,349.0C86.5,352.3 87.6,351.1 88.8,354.0C90.2,357.5 91.6,379.1 93.0,401.0C93.6,409.9 94.1,430.1 94.7,439.0C95.8,456.3 96.9,466.6 98.0,477.0C99.3,489.7 100.7,500.8 102.0,509.0C103.8,520.3 105.7,523.8 107.5,536.0C109.0,546.0 110.5,547.4 112.0,581.0C112.1,584.0 112.3,606.4 112.4,610.8C113.4,643.7 114.4,647.2 115.4,661.6C116.6,679.4 117.9,687.9 119.1,707.8C120.4,729.3 121.8,768.2 123.1,800.2C124.1,825.0 125.2,845.4 126.2,877.2C126.9,899.8 127.7,963.4 128.4,963.4C130.2,963.4 132.1,946.6 133.9,938.8C135.4,932.3 137.0,929.7 138.5,920.3C140.1,910.7 141.6,871.9 143.2,858.7C145.2,841.6 147.3,825.3 149.3,821.7C152.4,816.2 155.5,816.9 158.6,812.5C161.7,808.1 164.7,794.8 167.8,789.4C170.9,784.0 173.9,780.4 177.0,777.0C179.1,774.7 181.1,771.0 183.2,771.0C184.7,771.0 186.3,781.7 187.8,781.7C189.9,781.7 191.9,769.4 194.0,769.4C195.5,769.4 197.1,783.2 198.6,783.2C200.7,783.2 202.7,766.2 204.8,757.0C206.3,750.2 207.9,735.5 209.4,735.5C211.9,735.5 214.5,749.4 217.0,749.4C218.6,749.4 220.1,732.3 221.7,720.0C223.7,704.1 225.8,653.9 227.8,653.9C229.4,653.9 230.9,689.9 232.5,729.3C233.5,754.4 234.5,828.0 235.5,877.2C236.3,918.2 237.2,972.9 238.0,999.8C238.8,1026.7 239.7,1060.0 240.5,1060.0C242.4,1060.0 244.4,1022.6 246.3,1000.0C248.9,970.0 251.4,924.6 254.0,895.0C256.6,865.4 259.1,846.3 261.7,818.0C264.3,789.7 266.8,738.1 269.4,723.2C270.9,714.3 272.5,709.5 274.0,704.7C276.1,698.3 278.1,694.6 280.2,689.3C281.7,685.3 283.3,683.1 284.8,677.0C285.8,672.9 286.9,665.9 287.9,655.4C288.7,646.9 289.6,628.7 290.4,610.8C293.0,554.3 295.7,372.4 298.3,372.4C299.5,372.4 300.6,374.3 301.8,377.0C303.1,380.0 304.3,401.7 305.6,422.0C306.4,434.8 307.2,451.4 308.0,477.5C308.8,503.6 309.6,574.6 310.4,611.0C311.1,642.9 311.8,659.3 312.5,692.4C313.3,731.8 314.2,807.1 315.0,846.4C315.7,881.0 316.5,931.0 317.2,931.0C318.7,931.0 320.3,920.1 321.8,908.0C323.9,891.7 325.9,800.3 328.0,772.5C330.0,745.6 332.0,720.4 334.0,714.0C335.6,709.0 337.1,704.7 338.7,704.7C339.7,704.7 340.8,713.8 341.8,720.0C343.1,728.0 344.5,751.0 345.8,751.0C346.9,751.0 348.1,720.2 349.2,710.8C350.8,697.8 352.3,681.6 353.9,681.6C354.9,681.6 355.9,696.8 356.9,713.9C357.6,726.4 358.4,756.8 359.1,794.0C359.7,826.1 360.4,892.3 361.0,948.0C361.7,1009.6 362.4,1150.6 363.1,1150.6C363.7,1150.6 364.4,1150.6 365.0,1150.6C366.3,1150.6 367.6,1051.2 368.9,1027.4C369.9,1009.7 370.8,999.9 371.8,988.9C373.5,969.2 375.3,951.0 377.0,938.7C379.0,924.3 381.1,917.8 383.1,904.9C384.6,895.1 386.2,877.7 387.7,871.0C389.8,862.0 391.8,856.5 393.9,852.5C396.5,847.5 399.0,846.8 401.6,841.7C403.1,838.7 404.7,834.1 406.2,827.9C408.8,817.5 411.3,789.7 413.9,775.5C417.0,758.3 420.1,750.0 423.2,732.4C425.2,720.9 427.3,699.6 429.3,689.3C430.8,681.5 432.4,678.4 433.9,670.8C435.5,663.0 437.0,652.4 438.6,640.0C439.6,632.1 440.6,621.0 441.6,611.1C443.2,595.6 444.7,589.6 446.3,563.4C446.8,555.0 447.3,537.7 447.8,517.2C448.3,496.7 448.8,444.5 449.3,424.8C449.8,403.7 450.4,388.3 450.9,378.6C451.7,364.0 452.5,353.0 453.3,347.8C454.5,339.8 455.8,332.4 457.0,332.4C458.6,332.4 460.1,344.7 461.7,344.7C463.2,344.7 464.8,339.2 466.3,332.4C467.8,325.6 469.4,273.9 470.9,273.9C473.5,273.9 476.0,305.7 478.6,323.2C480.4,335.7 482.3,352.1 484.1,363.2C485.9,373.9 487.6,388.9 489.4,390.9C492.0,393.8 494.5,395.5 497.1,395.5C498.6,395.5 500.2,381.7 501.7,381.7C504.8,381.7 507.8,383.6 510.9,386.3C512.4,387.7 514.0,392.5 515.5,397.1C517.6,403.4 519.6,419.4 521.7,424.8C524.3,431.5 526.8,438.6 529.4,438.6C532.0,438.6 534.5,427.9 537.1,427.9C539.7,427.9 542.2,429.2 544.8,430.9C547.4,432.6 549.9,442.5 552.5,449.4C554.6,454.9 556.6,460.5 558.7,467.9C560.7,475.2 562.8,495.6 564.8,495.6C567.4,495.6 569.9,489.5 572.5,489.5C574.6,489.5 576.6,500.6 578.7,511.0C579.7,516.2 580.8,523.2 581.8,535.7C582.8,547.8 583.8,585.7 584.8,611.1C586.4,651.0 587.9,684.8 589.5,732.4C590.5,762.8 591.5,812.6 592.5,840.2C593.5,868.7 594.6,909.5 595.6,909.5C597.1,909.5 598.7,868.9 600.2,855.6C602.3,837.7 604.3,814.0 606.4,814.0C607.9,814.0 609.5,816.0 611.0,818.6C612.5,821.2 614.1,833.4 615.6,843.3C616.6,850.0 617.7,867.9 618.7,867.9C620.8,867.9 622.8,857.9 624.9,855.6C626.9,853.4 629.0,853.9 631.0,851.0C632.6,848.8 634.1,819.7 635.7,812.5C636.8,807.3 638.0,804.6 639.1,801.2C640.8,796.0 642.6,788.3 644.3,787.3C646.0,786.3 647.8,785.6 649.5,785.6C651.0,785.6 652.5,796.0 654.0,796.0C656.5,796.0 659.1,790.2 661.6,789.0C663.3,788.2 665.1,787.3 666.8,787.3C669.7,787.3 672.6,797.7 675.5,797.7C676.7,797.7 677.8,787.3 679.0,787.3C680.7,787.3 682.5,809.6 684.2,822.0C685.9,834.4 687.7,861.9 689.4,861.9C691.1,861.9 692.9,847.7 694.6,835.9C696.3,824.1 698.1,801.8 699.8,780.4C701.5,759.0 703.3,730.1 705.0,704.0C706.5,681.4 708.0,670.0 709.5,634.7C709.7,629.2 710.0,619.0 710.2,610.4C710.9,583.5 711.7,545.4 712.4,522.6C713.4,490.5 714.5,470.5 715.5,445.6C716.7,415.9 718.0,379.5 719.2,359.3C720.2,342.9 721.2,320.9 722.2,320.9C723.2,320.9 724.3,323.1 725.3,325.5C727.2,329.9 729.0,353.6 730.9,368.6C732.7,383.3 734.6,402.2 736.4,414.8C738.2,426.9 739.9,430.0 741.7,445.6C742.7,454.4 743.7,472.8 744.7,491.8C745.7,511.4 746.8,552.5 747.8,568.8C749.0,588.3 750.3,594.9 751.5,611.0C752.8,627.6 754.0,645.0 755.3,669.4C756.4,691.2 757.6,730.8 758.7,756.1C759.9,782.1 761.0,806.9 762.2,825.5C763.9,853.1 765.7,893.1 767.4,893.1C769.7,893.1 772.1,879.8 774.4,867.1C777.3,851.5 780.1,800.5 783.0,773.4C785.3,751.3 787.7,743.1 790.0,714.5C791.7,694.1 793.3,648.6 795.0,611.0C796.2,583.9 797.4,546.7 798.6,522.6C800.1,491.8 801.7,469.4 803.2,445.6C804.8,421.3 806.3,382.7 807.9,377.8C808.7,375.3 809.5,373.2 810.3,373.2C812.6,373.2 814.8,386.8 817.1,396.3C819.7,407.1 822.2,426.1 824.8,439.4C827.4,452.7 829.9,466.1 832.5,476.4C834.6,484.7 836.6,491.2 838.7,497.9C840.7,504.5 842.8,508.1 844.8,516.4C846.3,522.7 847.9,542.0 849.4,544.1C850.7,545.9 852.1,547.2 853.4,547.2C854.6,547.2 855.9,533.8 857.1,519.5C858.1,507.5 859.2,470.8 860.2,445.6C861.4,415.5 862.7,387.4 863.9,353.2C864.7,330.1 865.6,283.7 866.4,276.2C867.6,265.1 868.9,257.7 870.1,257.7C871.9,257.7 873.8,291.1 875.6,307.0C877.7,325.0 879.7,341.3 881.8,359.3C883.9,377.3 885.9,399.1 888.0,414.8C889.5,426.5 891.1,440.7 892.6,445.6C894.6,452.1 896.7,451.3 898.7,457.9C900.2,462.9 901.8,478.9 903.3,491.8C904.9,505.0 906.4,517.8 908.0,538.0C909.3,555.2 910.7,587.8 912.0,611.0C913.6,639.5 915.3,663.4 916.9,692.4C918.5,720.2 920.0,781.7 921.6,781.7C923.1,781.7 924.7,748.8 926.2,723.2C927.7,697.6 929.3,659.8 930.8,611.0C931.8,578.1 932.9,519.3 933.9,476.4C934.9,433.5 936.0,387.6 937.0,353.2C938.0,319.9 939.0,278.5 940.0,267.0C940.5,260.8 941.1,254.6 941.6,254.6C942.6,254.6 943.7,265.9 944.7,268.5C946.2,272.4 947.8,271.6 949.3,276.2C950.3,279.3 951.4,296.6 952.4,307.0C953.4,317.1 954.4,330.0 955.4,337.8C957.5,353.9 959.5,360.6 961.6,374.8C963.1,385.4 964.7,407.9 966.2,411.7C969.3,419.4 972.4,424.0 975.5,424.0C977.5,424.0 979.6,418.6 981.6,414.8C983.7,410.9 985.7,399.4 987.8,399.4C989.8,399.4 991.9,408.0 993.9,414.8C996.0,421.7 998.0,436.7 1000.1,445.6C1002.7,456.7 1005.2,474.8 1007.8,474.8C1010.4,474.8 1012.9,459.6 1015.5,451.7C1018.1,443.8 1020.6,427.1 1023.2,427.1C1025.2,427.1 1027.3,437.1 1029.3,445.6C1031.2,453.4 1033.0,482.5 1034.9,482.5C1036.6,482.5 1038.4,476.3 1040.1,474.8C1042.7,472.6 1045.2,472.7 1047.8,470.2C1049.9,468.2 1051.9,454.8 1054.0,454.8C1055.5,454.8 1057.1,457.4 1058.6,461.0C1060.1,464.6 1061.7,481.0 1063.2,501.0C1064.6,519.7 1066.1,557.1 1067.5,611.0C1068.1,634.8 1068.8,694.4 1069.4,723.2C1070.4,770.1 1071.5,825.5 1072.5,834.0C1074.0,846.6 1075.6,846.9 1077.1,854.1C1078.6,861.3 1080.2,868.1 1081.7,877.2C1083.2,886.3 1084.8,902.9 1086.3,911.0C1088.1,920.3 1089.8,932.6 1091.6,932.6C1093.4,932.6 1095.3,917.0 1097.1,911.0C1099.7,902.5 1102.2,895.0 1104.8,889.5C1106.9,885.1 1108.9,883.7 1111.0,878.7C1114.1,871.4 1117.1,845.1 1120.2,840.2C1122.8,836.1 1125.3,832.5 1127.9,832.5C1129.6,832.5 1131.4,837.1 1133.1,837.1C1135.0,837.1 1136.8,823.5 1138.7,815.6C1141.3,804.7 1143.8,793.8 1146.4,778.6C1148.4,766.5 1150.5,747.7 1152.5,732.4C1154.6,716.9 1156.6,702.8 1158.7,686.2C1160.2,673.8 1161.8,665.3 1163.3,646.2C1163.9,638.3 1164.6,624.1 1165.2,611.0C1166.6,581.5 1168.1,541.3 1169.5,507.2C1171.0,470.7 1172.6,426.9 1174.1,399.4C1175.1,380.8 1176.2,359.0 1177.2,353.2C1178.2,347.4 1179.3,342.4 1180.3,342.4C1182.3,342.4 1184.2,366.3 1186.2,377.0C1188.2,388.0 1190.3,393.9 1192.3,407.8C1193.8,418.3 1195.4,446.4 1196.9,454.0C1198.5,461.8 1200.0,467.4 1201.6,469.4C1203.6,472.0 1205.7,474.0 1207.7,474.0C1209.8,474.0 1211.8,462.1 1213.9,454.0C1215.9,446.0 1218.0,429.1 1220.0,423.2C1222.6,415.7 1225.1,414.7 1227.7,407.8C1229.8,402.2 1231.8,383.2 1233.9,383.2C1236.0,383.2 1238.0,394.3 1240.1,401.6C1242.7,410.6 1245.2,422.3 1247.8,435.5C1249.3,443.4 1250.9,449.2 1252.4,463.2C1253.4,472.7 1254.5,499.0 1255.5,515.6C1256.5,531.7 1257.5,543.4 1258.5,561.8C1259.2,575.3 1260.0,588.3 1260.7,611.1C1261.5,637.1 1262.4,705.4 1263.2,742.4C1264.0,777.9 1264.8,817.0 1265.6,834.8C1266.8,862.2 1268.1,881.7 1269.3,890.2C1270.8,900.7 1272.4,910.2 1273.9,910.2C1275.5,910.2 1277.0,897.9 1278.6,897.9C1279.6,897.9 1280.6,901.0 1281.6,901.0C1283.2,901.0 1284.7,880.1 1286.3,871.7C1287.8,863.5 1289.4,853.8 1290.9,850.2C1292.9,845.4 1295.0,845.4 1297.0,840.9C1299.1,836.4 1301.1,826.1 1303.2,816.3C1305.3,806.5 1307.3,785.5 1309.4,779.4C1310.9,774.9 1312.5,770.1 1314.0,770.1C1316.0,770.1 1318.1,782.4 1320.1,782.4C1321.7,782.4 1323.2,775.9 1324.8,773.2C1326.8,769.7 1328.9,764.0 1330.9,764.0C1332.4,764.0 1334.0,764.0 1335.5,764.0C1336.5,764.0 1337.6,752.2 1338.6,742.4C1339.6,732.6 1340.7,713.1 1341.7,696.2C1343.2,671.1 1344.8,637.2 1346.3,611.1C1347.3,593.5 1348.4,569.6 1349.4,561.8C1350.4,554.0 1351.5,546.4 1352.5,546.4C1354.5,546.4 1356.6,561.8 1358.6,561.8C1360.1,561.8 1361.7,528.3 1363.2,521.7C1364.2,517.3 1365.3,512.5 1366.3,512.5C1367.3,512.5 1368.4,519.8 1369.4,531.0C1369.9,536.4 1370.4,568.7 1370.9,577.2C1371.9,594.9 1373.0,595.2 1374.0,611.1C1375.5,634.7 1377.1,690.9 1378.6,742.4C1379.6,777.1 1380.7,830.4 1381.7,865.6C1382.7,900.8 1383.8,941.5 1384.8,958.0C1385.8,974.5 1386.9,991.9 1387.9,991.9C1389.4,991.9 1391.0,986.2 1392.5,979.5C1394.0,972.8 1395.6,941.6 1397.1,927.2C1398.6,912.8 1400.2,899.9 1401.7,890.2C1403.3,880.3 1404.8,865.6 1406.4,865.6C1407.9,865.6 1409.5,874.8 1411.0,874.8C1413.0,874.8 1415.1,868.0 1417.1,865.6C1419.2,863.1 1421.2,863.5 1423.3,859.4C1424.3,857.4 1425.4,837.7 1426.4,831.7C1428.4,819.9 1430.5,814.1 1432.5,807.1C1434.6,800.0 1436.6,792.2 1438.7,788.6C1441.3,784.2 1443.8,779.4 1446.4,779.4C1448.5,779.4 1450.5,779.4 1452.6,779.4C1453.6,779.4 1454.6,757.6 1455.6,748.6C1457.2,734.5 1458.7,720.7 1460.3,711.6C1462.3,699.8 1464.4,694.7 1466.4,683.9C1468.4,673.4 1470.3,659.9 1472.3,646.2C1473.8,635.5 1475.4,621.8 1476.9,611.0C1478.2,601.6 1479.6,584.9 1480.9,584.9C1482.1,584.9 1483.4,598.7 1484.6,611.0C1485.6,621.3 1486.7,639.8 1487.7,661.6C1488.7,683.4 1489.8,726.0 1490.8,754.0C1491.8,782.0 1492.9,812.6 1493.9,831.0C1494.9,849.4 1496.0,861.2 1497.0,874.1C1498.0,886.6 1499.0,897.7 1500.0,908.0C1501.0,918.6 1502.1,937.2 1503.1,937.2C1504.6,937.2 1506.2,894.4 1507.7,877.2C1509.3,859.6 1510.8,849.5 1512.4,831.0C1513.9,812.9 1515.5,778.3 1517.0,763.2C1518.5,748.1 1520.1,742.4 1521.6,729.3C1522.6,720.5 1523.7,698.6 1524.7,698.6C1526.2,698.6 1527.8,726.4 1529.3,738.6C1530.8,750.8 1532.4,762.3 1533.9,772.5C1535.4,782.7 1537.0,790.2 1538.5,800.2C1540.1,810.5 1541.6,825.1 1543.2,834.0C1544.7,842.7 1546.3,855.6 1547.8,855.6C1549.8,855.6 1551.9,827.1 1553.9,821.7C1556.0,816.2 1558.0,811.0 1560.1,811.0C1562.2,811.0 1564.2,828.6 1566.3,837.1C1567.8,843.4 1569.4,855.6 1570.9,855.6C1572.4,855.6 1574.0,813.3 1575.5,784.8C1576.8,760.1 1578.2,728.9 1579.5,692.4C1580.3,669.6 1581.2,640.5 1582.0,611.0C1582.9,579.2 1583.8,548.8 1584.7,506.4C1585.2,481.2 1585.8,436.4 1586.3,414.0C1587.1,380.4 1587.9,354.6 1588.7,337.0C1589.4,320.9 1590.2,303.9 1590.9,300.0C1591.7,295.6 1592.6,292.3 1593.4,292.3C1594.6,292.3 1595.8,304.1 1597.0,312.4C1598.0,319.5 1599.1,330.3 1600.1,340.0C1601.1,349.7 1602.2,366.5 1603.2,370.9C1605.3,379.7 1607.3,380.0 1609.4,386.3C1612.0,394.1 1614.5,408.0 1617.1,417.1C1620.2,428.0 1623.2,446.3 1626.3,446.3C1628.9,446.3 1631.4,445.6 1634.0,444.8C1637.6,443.7 1641.2,441.8 1644.8,437.1C1646.3,435.1 1647.9,424.1 1649.4,420.1C1650.9,416.1 1652.5,410.9 1654.0,410.9C1656.1,410.9 1658.1,418.6 1660.2,418.6C1663.8,418.6 1667.4,414.0 1671.0,414.0C1672.5,414.0 1674.1,422.7 1675.6,429.4C1677.6,438.3 1679.7,457.3 1681.7,469.4C1683.8,481.7 1685.8,491.4 1687.9,503.3C1689.4,512.1 1691.0,519.8 1692.5,531.0C1693.5,538.5 1694.6,544.2 1695.6,558.7C1696.2,567.6 1696.9,594.5 1697.5,611.0C1698.4,634.4 1699.3,660.1 1700.2,677.0C1701.7,705.8 1703.3,743.7 1704.8,744.7C1706.4,745.7 1707.9,746.3 1709.5,746.3C1711.0,746.3 1712.6,734.0 1714.1,723.2C1715.4,713.8 1716.8,695.7 1718.1,677.0C1719.3,659.7 1720.6,631.9 1721.8,611.0C1723.3,585.0 1724.9,564.6 1726.4,537.2C1727.9,509.8 1729.5,476.6 1731.0,444.8C1731.5,433.8 1732.1,415.0 1732.6,410.9C1734.1,399.3 1735.7,397.6 1737.2,392.4C1738.2,388.9 1739.3,383.2 1740.3,383.2C1742.3,383.2 1744.4,384.6 1746.4,386.3C1747.9,387.6 1749.5,390.2 1751.0,395.5C1751.6,397.7 1752.3,402.9 1752.9,410.4C1754.0,423.3 1755.1,479.5 1756.2,507.4C1757.8,547.2 1759.3,570.4 1760.9,611.0C1761.6,630.0 1762.4,657.0 1763.1,677.0C1764.1,705.2 1765.2,728.3 1766.2,754.0C1767.2,779.7 1768.3,808.9 1769.3,831.0C1770.0,846.0 1770.7,864.9 1771.4,871.0C1772.2,878.3 1773.1,884.9 1773.9,884.9C1775.4,884.9 1777.0,875.0 1778.5,868.0C1780.0,861.0 1781.6,849.4 1783.1,840.2C1784.1,834.0 1785.2,828.3 1786.2,821.7C1787.2,815.1 1788.3,805.6 1789.3,800.2C1790.8,792.3 1792.4,783.5 1793.9,781.7C1795.4,779.9 1797.0,780.7 1798.5,778.6C1799.5,777.2 1800.6,752.9 1801.6,738.6C1802.6,724.3 1803.7,714.5 1804.7,692.4C1805.5,676.0 1806.2,637.4 1807.0,611.0C1807.9,581.1 1808.7,555.3 1809.6,523.6C1810.7,484.6 1811.7,430.6 1812.8,394.2C1813.9,356.7 1815.0,308.8 1816.1,297.1C1817.4,283.6 1818.6,272.8 1819.9,272.8C1821.9,272.8 1823.8,306.7 1825.8,323.0C1827.4,336.3 1829.0,351.8 1830.6,361.8C1832.8,375.3 1834.9,390.6 1837.1,394.2C1839.3,397.8 1841.4,397.8 1843.6,400.6C1846.3,404.1 1849.0,410.1 1851.7,416.8C1854.4,423.4 1857.0,436.8 1859.7,442.7C1862.9,449.9 1866.2,452.0 1869.4,458.9C1872.7,465.9 1875.9,480.2 1879.2,488.0C1881.3,493.1 1883.5,494.7 1885.6,501.0C1887.8,507.4 1889.9,536.6 1892.1,536.6C1893.7,536.6 1895.4,531.4 1897.0,523.6C1898.1,518.5 1899.1,492.1 1900.2,475.1C1901.8,449.7 1903.4,431.2 1905.0,394.2C1906.1,368.8 1907.2,303.9 1908.3,280.9C1909.7,251.7 1911.1,219.4 1912.5,219.4C1913.8,219.4 1915.1,246.6 1916.4,255.0C1917.5,261.9 1918.5,263.8 1919.6,271.2C1920.7,278.6 1921.7,295.6 1922.8,306.8C1924.4,324.0 1926.1,343.0 1927.7,355.3C1929.9,371.7 1932.0,382.6 1934.2,394.2C1936.9,408.6 1939.6,417.9 1942.3,433.0C1944.4,444.9 1946.6,464.7 1948.7,475.1C1950.3,483.1 1952.0,486.4 1953.6,494.5C1955.8,505.3 1957.9,515.9 1960.1,539.8C1961.2,552.3 1962.4,586.3 1963.5,611.0C1964.5,632.1 1965.4,656.1 1966.4,677.0C1967.4,698.6 1968.4,718.9 1969.4,738.6C1970.4,758.9 1971.5,789.9 1972.5,797.1C1974.0,807.7 1975.6,814.3 1977.1,815.6C1978.1,816.4 1979.2,817.1 1980.2,817.1C1982.3,817.1 1984.3,792.0 1986.4,784.8C1987.9,779.5 1989.5,777.5 1991.0,772.5C1992.8,766.5 1994.7,749.4 1996.5,749.4C1998.1,749.4 1999.6,755.3 2001.2,760.1C2002.7,764.8 2004.3,772.7 2005.8,781.4C2007.1,788.5 2008.3,797.2 2009.6,808.4C2010.9,819.9 2012.2,844.8 2013.5,854.6C2014.8,864.2 2016.0,875.8 2017.3,875.8C2019.2,875.8 2021.2,871.2 2023.1,866.2C2024.4,862.9 2025.7,853.4 2027.0,846.9C2028.9,837.3 2030.9,818.0 2032.8,818.0C2034.3,818.0 2035.9,864.3 2037.4,864.3C2039.7,864.3 2042.0,855.2 2044.3,846.9C2046.2,840.0 2048.2,824.6 2050.1,812.2C2051.4,803.8 2052.7,791.7 2054.0,785.3C2056.3,774.0 2058.6,760.2 2060.9,760.2C2062.4,760.2 2064.0,761.0 2065.5,762.1C2067.4,763.5 2069.4,783.3 2071.3,787.2C2073.2,791.1 2075.2,794.9 2077.1,794.9C2079.0,794.9 2081.0,786.9 2082.9,777.6C2084.2,771.5 2085.4,747.3 2086.7,739.0C2088.6,726.3 2090.6,729.0 2092.5,712.0C2093.5,702.9 2094.6,627.3 2095.6,611.8C2096.5,598.3 2097.4,595.6 2098.3,584.9C2099.6,569.8 2100.8,556.6 2102.1,527.1C2102.7,512.3 2103.4,471.9 2104.0,450.0C2104.8,423.4 2105.5,402.8 2106.3,381.1C2107.5,347.2 2108.7,306.0 2109.9,285.6C2110.7,272.0 2111.5,258.9 2112.3,254.5C2113.5,247.9 2114.7,242.6 2115.9,242.6C2117.1,242.6 2118.2,263.5 2119.4,273.6C2121.0,287.5 2122.6,300.5 2124.2,314.2C2125.4,324.5 2126.6,337.4 2127.8,345.3C2129.8,358.5 2131.8,367.2 2133.8,376.3C2136.2,387.1 2138.5,394.4 2140.9,405.0C2142.5,412.2 2144.1,421.3 2145.7,428.9C2147.2,436.2 2148.8,444.8 2150.3,450.0C2152.2,456.6 2154.2,459.9 2156.1,465.4C2157.8,470.2 2159.4,473.5 2161.1,480.8C2162.6,487.5 2164.2,505.2 2165.7,515.5C2167.6,528.5 2169.6,535.4 2171.5,550.2C2173.4,565.0 2175.4,585.3 2177.3,611.8C2178.6,629.1 2179.8,654.4 2181.1,681.2C2182.1,703.1 2183.2,727.9 2184.2,758.3C2185.1,784.8 2186.0,834.8 2186.9,854.6C2188.2,883.2 2189.5,914.4 2190.8,914.4C2192.1,914.4 2193.3,886.2 2194.6,873.9C2195.9,861.3 2197.2,850.8 2198.5,839.2" stroke="#c9382e" stroke-opacity="0.72" clip-path="url(#above)"/><path d="M83.6,327.6C84.2,334.7 84.7,347.4 85.3,349.0C86.5,352.3 87.6,351.1 88.8,354.0C90.2,357.5 91.6,379.1 93.0,401.0C93.6,409.9 94.1,430.1 94.7,439.0C95.8,456.3 96.9,466.6 98.0,477.0C99.3,489.7 100.7,500.8 102.0,509.0C103.8,520.3 105.7,523.8 107.5,536.0C109.0,546.0 110.5,547.4 112.0,581.0C112.1,584.0 112.3,606.4 112.4,610.8C113.4,643.7 114.4,647.2 115.4,661.6C116.6,679.4 117.9,687.9 119.1,707.8C120.4,729.3 121.8,768.2 123.1,800.2C124.1,825.0 125.2,845.4 126.2,877.2C126.9,899.8 127.7,963.4 128.4,963.4C130.2,963.4 132.1,946.6 133.9,938.8C135.4,932.3 137.0,929.7 138.5,920.3C140.1,910.7 141.6,871.9 143.2,858.7C145.2,841.6 147.3,825.3 149.3,821.7C152.4,816.2 155.5,816.9 158.6,812.5C161.7,808.1 164.7,794.8 167.8,789.4C170.9,784.0 173.9,780.4 177.0,777.0C179.1,774.7 181.1,771.0 183.2,771.0C184.7,771.0 186.3,781.7 187.8,781.7C189.9,781.7 191.9,769.4 194.0,769.4C195.5,769.4 197.1,783.2 198.6,783.2C200.7,783.2 202.7,766.2 204.8,757.0C206.3,750.2 207.9,735.5 209.4,735.5C211.9,735.5 214.5,749.4 217.0,749.4C218.6,749.4 220.1,732.3 221.7,720.0C223.7,704.1 225.8,653.9 227.8,653.9C229.4,653.9 230.9,689.9 232.5,729.3C233.5,754.4 234.5,828.0 235.5,877.2C236.3,918.2 237.2,972.9 238.0,999.8C238.8,1026.7 239.7,1060.0 240.5,1060.0C242.4,1060.0 244.4,1022.6 246.3,1000.0C248.9,970.0 251.4,924.6 254.0,895.0C256.6,865.4 259.1,846.3 261.7,818.0C264.3,789.7 266.8,738.1 269.4,723.2C270.9,714.3 272.5,709.5 274.0,704.7C276.1,698.3 278.1,694.6 280.2,689.3C281.7,685.3 283.3,683.1 284.8,677.0C285.8,672.9 286.9,665.9 287.9,655.4C288.7,646.9 289.6,628.7 290.4,610.8C293.0,554.3 295.7,372.4 298.3,372.4C299.5,372.4 300.6,374.3 301.8,377.0C303.1,380.0 304.3,401.7 305.6,422.0C306.4,434.8 307.2,451.4 308.0,477.5C308.8,503.6 309.6,574.6 310.4,611.0C311.1,642.9 311.8,659.3 312.5,692.4C313.3,731.8 314.2,807.1 315.0,846.4C315.7,881.0 316.5,931.0 317.2,931.0C318.7,931.0 320.3,920.1 321.8,908.0C323.9,891.7 325.9,800.3 328.0,772.5C330.0,745.6 332.0,720.4 334.0,714.0C335.6,709.0 337.1,704.7 338.7,704.7C339.7,704.7 340.8,713.8 341.8,720.0C343.1,728.0 344.5,751.0 345.8,751.0C346.9,751.0 348.1,720.2 349.2,710.8C350.8,697.8 352.3,681.6 353.9,681.6C354.9,681.6 355.9,696.8 356.9,713.9C357.6,726.4 358.4,756.8 359.1,794.0C359.7,826.1 360.4,892.3 361.0,948.0C361.7,1009.6 362.4,1150.6 363.1,1150.6C363.7,1150.6 364.4,1150.6 365.0,1150.6C366.3,1150.6 367.6,1051.2 368.9,1027.4C369.9,1009.7 370.8,999.9 371.8,988.9C373.5,969.2 375.3,951.0 377.0,938.7C379.0,924.3 381.1,917.8 383.1,904.9C384.6,895.1 386.2,877.7 387.7,871.0C389.8,862.0 391.8,856.5 393.9,852.5C396.5,847.5 399.0,846.8 401.6,841.7C403.1,838.7 404.7,834.1 406.2,827.9C408.8,817.5 411.3,789.7 413.9,775.5C417.0,758.3 420.1,750.0 423.2,732.4C425.2,720.9 427.3,699.6 429.3,689.3C430.8,681.5 432.4,678.4 433.9,670.8C435.5,663.0 437.0,652.4 438.6,640.0C439.6,632.1 440.6,621.0 441.6,611.1C443.2,595.6 444.7,589.6 446.3,563.4C446.8,555.0 447.3,537.7 447.8,517.2C448.3,496.7 448.8,444.5 449.3,424.8C449.8,403.7 450.4,388.3 450.9,378.6C451.7,364.0 452.5,353.0 453.3,347.8C454.5,339.8 455.8,332.4 457.0,332.4C458.6,332.4 460.1,344.7 461.7,344.7C463.2,344.7 464.8,339.2 466.3,332.4C467.8,325.6 469.4,273.9 470.9,273.9C473.5,273.9 476.0,305.7 478.6,323.2C480.4,335.7 482.3,352.1 484.1,363.2C485.9,373.9 487.6,388.9 489.4,390.9C492.0,393.8 494.5,395.5 497.1,395.5C498.6,395.5 500.2,381.7 501.7,381.7C504.8,381.7 507.8,383.6 510.9,386.3C512.4,387.7 514.0,392.5 515.5,397.1C517.6,403.4 519.6,419.4 521.7,424.8C524.3,431.5 526.8,438.6 529.4,438.6C532.0,438.6 534.5,427.9 537.1,427.9C539.7,427.9 542.2,429.2 544.8,430.9C547.4,432.6 549.9,442.5 552.5,449.4C554.6,454.9 556.6,460.5 558.7,467.9C560.7,475.2 562.8,495.6 564.8,495.6C567.4,495.6 569.9,489.5 572.5,489.5C574.6,489.5 576.6,500.6 578.7,511.0C579.7,516.2 580.8,523.2 581.8,535.7C582.8,547.8 583.8,585.7 584.8,611.1C586.4,651.0 587.9,684.8 589.5,732.4C590.5,762.8 591.5,812.6 592.5,840.2C593.5,868.7 594.6,909.5 595.6,909.5C597.1,909.5 598.7,868.9 600.2,855.6C602.3,837.7 604.3,814.0 606.4,814.0C607.9,814.0 609.5,816.0 611.0,818.6C612.5,821.2 614.1,833.4 615.6,843.3C616.6,850.0 617.7,867.9 618.7,867.9C620.8,867.9 622.8,857.9 624.9,855.6C626.9,853.4 629.0,853.9 631.0,851.0C632.6,848.8 634.1,819.7 635.7,812.5C636.8,807.3 638.0,804.6 639.1,801.2C640.8,796.0 642.6,788.3 644.3,787.3C646.0,786.3 647.8,785.6 649.5,785.6C651.0,785.6 652.5,796.0 654.0,796.0C656.5,796.0 659.1,790.2 661.6,789.0C663.3,788.2 665.1,787.3 666.8,787.3C669.7,787.3 672.6,797.7 675.5,797.7C676.7,797.7 677.8,787.3 679.0,787.3C680.7,787.3 682.5,809.6 684.2,822.0C685.9,834.4 687.7,861.9 689.4,861.9C691.1,861.9 692.9,847.7 694.6,835.9C696.3,824.1 698.1,801.8 699.8,780.4C701.5,759.0 703.3,730.1 705.0,704.0C706.5,681.4 708.0,670.0 709.5,634.7C709.7,629.2 710.0,619.0 710.2,610.4C710.9,583.5 711.7,545.4 712.4,522.6C713.4,490.5 714.5,470.5 715.5,445.6C716.7,415.9 718.0,379.5 719.2,359.3C720.2,342.9 721.2,320.9 722.2,320.9C723.2,320.9 724.3,323.1 725.3,325.5C727.2,329.9 729.0,353.6 730.9,368.6C732.7,383.3 734.6,402.2 736.4,414.8C738.2,426.9 739.9,430.0 741.7,445.6C742.7,454.4 743.7,472.8 744.7,491.8C745.7,511.4 746.8,552.5 747.8,568.8C749.0,588.3 750.3,594.9 751.5,611.0C752.8,627.6 754.0,645.0 755.3,669.4C756.4,691.2 757.6,730.8 758.7,756.1C759.9,782.1 761.0,806.9 762.2,825.5C763.9,853.1 765.7,893.1 767.4,893.1C769.7,893.1 772.1,879.8 774.4,867.1C777.3,851.5 780.1,800.5 783.0,773.4C785.3,751.3 787.7,743.1 790.0,714.5C791.7,694.1 793.3,648.6 795.0,611.0C796.2,583.9 797.4,546.7 798.6,522.6C800.1,491.8 801.7,469.4 803.2,445.6C804.8,421.3 806.3,382.7 807.9,377.8C808.7,375.3 809.5,373.2 810.3,373.2C812.6,373.2 814.8,386.8 817.1,396.3C819.7,407.1 822.2,426.1 824.8,439.4C827.4,452.7 829.9,466.1 832.5,476.4C834.6,484.7 836.6,491.2 838.7,497.9C840.7,504.5 842.8,508.1 844.8,516.4C846.3,522.7 847.9,542.0 849.4,544.1C850.7,545.9 852.1,547.2 853.4,547.2C854.6,547.2 855.9,533.8 857.1,519.5C858.1,507.5 859.2,470.8 860.2,445.6C861.4,415.5 862.7,387.4 863.9,353.2C864.7,330.1 865.6,283.7 866.4,276.2C867.6,265.1 868.9,257.7 870.1,257.7C871.9,257.7 873.8,291.1 875.6,307.0C877.7,325.0 879.7,341.3 881.8,359.3C883.9,377.3 885.9,399.1 888.0,414.8C889.5,426.5 891.1,440.7 892.6,445.6C894.6,452.1 896.7,451.3 898.7,457.9C900.2,462.9 901.8,478.9 903.3,491.8C904.9,505.0 906.4,517.8 908.0,538.0C909.3,555.2 910.7,587.8 912.0,611.0C913.6,639.5 915.3,663.4 916.9,692.4C918.5,720.2 920.0,781.7 921.6,781.7C923.1,781.7 924.7,748.8 926.2,723.2C927.7,697.6 929.3,659.8 930.8,611.0C931.8,578.1 932.9,519.3 933.9,476.4C934.9,433.5 936.0,387.6 937.0,353.2C938.0,319.9 939.0,278.5 940.0,267.0C940.5,260.8 941.1,254.6 941.6,254.6C942.6,254.6 943.7,265.9 944.7,268.5C946.2,272.4 947.8,271.6 949.3,276.2C950.3,279.3 951.4,296.6 952.4,307.0C953.4,317.1 954.4,330.0 955.4,337.8C957.5,353.9 959.5,360.6 961.6,374.8C963.1,385.4 964.7,407.9 966.2,411.7C969.3,419.4 972.4,424.0 975.5,424.0C977.5,424.0 979.6,418.6 981.6,414.8C983.7,410.9 985.7,399.4 987.8,399.4C989.8,399.4 991.9,408.0 993.9,414.8C996.0,421.7 998.0,436.7 1000.1,445.6C1002.7,456.7 1005.2,474.8 1007.8,474.8C1010.4,474.8 1012.9,459.6 1015.5,451.7C1018.1,443.8 1020.6,427.1 1023.2,427.1C1025.2,427.1 1027.3,437.1 1029.3,445.6C1031.2,453.4 1033.0,482.5 1034.9,482.5C1036.6,482.5 1038.4,476.3 1040.1,474.8C1042.7,472.6 1045.2,472.7 1047.8,470.2C1049.9,468.2 1051.9,454.8 1054.0,454.8C1055.5,454.8 1057.1,457.4 1058.6,461.0C1060.1,464.6 1061.7,481.0 1063.2,501.0C1064.6,519.7 1066.1,557.1 1067.5,611.0C1068.1,634.8 1068.8,694.4 1069.4,723.2C1070.4,770.1 1071.5,825.5 1072.5,834.0C1074.0,846.6 1075.6,846.9 1077.1,854.1C1078.6,861.3 1080.2,868.1 1081.7,877.2C1083.2,886.3 1084.8,902.9 1086.3,911.0C1088.1,920.3 1089.8,932.6 1091.6,932.6C1093.4,932.6 1095.3,917.0 1097.1,911.0C1099.7,902.5 1102.2,895.0 1104.8,889.5C1106.9,885.1 1108.9,883.7 1111.0,878.7C1114.1,871.4 1117.1,845.1 1120.2,840.2C1122.8,836.1 1125.3,832.5 1127.9,832.5C1129.6,832.5 1131.4,837.1 1133.1,837.1C1135.0,837.1 1136.8,823.5 1138.7,815.6C1141.3,804.7 1143.8,793.8 1146.4,778.6C1148.4,766.5 1150.5,747.7 1152.5,732.4C1154.6,716.9 1156.6,702.8 1158.7,686.2C1160.2,673.8 1161.8,665.3 1163.3,646.2C1163.9,638.3 1164.6,624.1 1165.2,611.0C1166.6,581.5 1168.1,541.3 1169.5,507.2C1171.0,470.7 1172.6,426.9 1174.1,399.4C1175.1,380.8 1176.2,359.0 1177.2,353.2C1178.2,347.4 1179.3,342.4 1180.3,342.4C1182.3,342.4 1184.2,366.3 1186.2,377.0C1188.2,388.0 1190.3,393.9 1192.3,407.8C1193.8,418.3 1195.4,446.4 1196.9,454.0C1198.5,461.8 1200.0,467.4 1201.6,469.4C1203.6,472.0 1205.7,474.0 1207.7,474.0C1209.8,474.0 1211.8,462.1 1213.9,454.0C1215.9,446.0 1218.0,429.1 1220.0,423.2C1222.6,415.7 1225.1,414.7 1227.7,407.8C1229.8,402.2 1231.8,383.2 1233.9,383.2C1236.0,383.2 1238.0,394.3 1240.1,401.6C1242.7,410.6 1245.2,422.3 1247.8,435.5C1249.3,443.4 1250.9,449.2 1252.4,463.2C1253.4,472.7 1254.5,499.0 1255.5,515.6C1256.5,531.7 1257.5,543.4 1258.5,561.8C1259.2,575.3 1260.0,588.3 1260.7,611.1C1261.5,637.1 1262.4,705.4 1263.2,742.4C1264.0,777.9 1264.8,817.0 1265.6,834.8C1266.8,862.2 1268.1,881.7 1269.3,890.2C1270.8,900.7 1272.4,910.2 1273.9,910.2C1275.5,910.2 1277.0,897.9 1278.6,897.9C1279.6,897.9 1280.6,901.0 1281.6,901.0C1283.2,901.0 1284.7,880.1 1286.3,871.7C1287.8,863.5 1289.4,853.8 1290.9,850.2C1292.9,845.4 1295.0,845.4 1297.0,840.9C1299.1,836.4 1301.1,826.1 1303.2,816.3C1305.3,806.5 1307.3,785.5 1309.4,779.4C1310.9,774.9 1312.5,770.1 1314.0,770.1C1316.0,770.1 1318.1,782.4 1320.1,782.4C1321.7,782.4 1323.2,775.9 1324.8,773.2C1326.8,769.7 1328.9,764.0 1330.9,764.0C1332.4,764.0 1334.0,764.0 1335.5,764.0C1336.5,764.0 1337.6,752.2 1338.6,742.4C1339.6,732.6 1340.7,713.1 1341.7,696.2C1343.2,671.1 1344.8,637.2 1346.3,611.1C1347.3,593.5 1348.4,569.6 1349.4,561.8C1350.4,554.0 1351.5,546.4 1352.5,546.4C1354.5,546.4 1356.6,561.8 1358.6,561.8C1360.1,561.8 1361.7,528.3 1363.2,521.7C1364.2,517.3 1365.3,512.5 1366.3,512.5C1367.3,512.5 1368.4,519.8 1369.4,531.0C1369.9,536.4 1370.4,568.7 1370.9,577.2C1371.9,594.9 1373.0,595.2 1374.0,611.1C1375.5,634.7 1377.1,690.9 1378.6,742.4C1379.6,777.1 1380.7,830.4 1381.7,865.6C1382.7,900.8 1383.8,941.5 1384.8,958.0C1385.8,974.5 1386.9,991.9 1387.9,991.9C1389.4,991.9 1391.0,986.2 1392.5,979.5C1394.0,972.8 1395.6,941.6 1397.1,927.2C1398.6,912.8 1400.2,899.9 1401.7,890.2C1403.3,880.3 1404.8,865.6 1406.4,865.6C1407.9,865.6 1409.5,874.8 1411.0,874.8C1413.0,874.8 1415.1,868.0 1417.1,865.6C1419.2,863.1 1421.2,863.5 1423.3,859.4C1424.3,857.4 1425.4,837.7 1426.4,831.7C1428.4,819.9 1430.5,814.1 1432.5,807.1C1434.6,800.0 1436.6,792.2 1438.7,788.6C1441.3,784.2 1443.8,779.4 1446.4,779.4C1448.5,779.4 1450.5,779.4 1452.6,779.4C1453.6,779.4 1454.6,757.6 1455.6,748.6C1457.2,734.5 1458.7,720.7 1460.3,711.6C1462.3,699.8 1464.4,694.7 1466.4,683.9C1468.4,673.4 1470.3,659.9 1472.3,646.2C1473.8,635.5 1475.4,621.8 1476.9,611.0C1478.2,601.6 1479.6,584.9 1480.9,584.9C1482.1,584.9 1483.4,598.7 1484.6,611.0C1485.6,621.3 1486.7,639.8 1487.7,661.6C1488.7,683.4 1489.8,726.0 1490.8,754.0C1491.8,782.0 1492.9,812.6 1493.9,831.0C1494.9,849.4 1496.0,861.2 1497.0,874.1C1498.0,886.6 1499.0,897.7 1500.0,908.0C1501.0,918.6 1502.1,937.2 1503.1,937.2C1504.6,937.2 1506.2,894.4 1507.7,877.2C1509.3,859.6 1510.8,849.5 1512.4,831.0C1513.9,812.9 1515.5,778.3 1517.0,763.2C1518.5,748.1 1520.1,742.4 1521.6,729.3C1522.6,720.5 1523.7,698.6 1524.7,698.6C1526.2,698.6 1527.8,726.4 1529.3,738.6C1530.8,750.8 1532.4,762.3 1533.9,772.5C1535.4,782.7 1537.0,790.2 1538.5,800.2C1540.1,810.5 1541.6,825.1 1543.2,834.0C1544.7,842.7 1546.3,855.6 1547.8,855.6C1549.8,855.6 1551.9,827.1 1553.9,821.7C1556.0,816.2 1558.0,811.0 1560.1,811.0C1562.2,811.0 1564.2,828.6 1566.3,837.1C1567.8,843.4 1569.4,855.6 1570.9,855.6C1572.4,855.6 1574.0,813.3 1575.5,784.8C1576.8,760.1 1578.2,728.9 1579.5,692.4C1580.3,669.6 1581.2,640.5 1582.0,611.0C1582.9,579.2 1583.8,548.8 1584.7,506.4C1585.2,481.2 1585.8,436.4 1586.3,414.0C1587.1,380.4 1587.9,354.6 1588.7,337.0C1589.4,320.9 1590.2,303.9 1590.9,300.0C1591.7,295.6 1592.6,292.3 1593.4,292.3C1594.6,292.3 1595.8,304.1 1597.0,312.4C1598.0,319.5 1599.1,330.3 1600.1,340.0C1601.1,349.7 1602.2,366.5 1603.2,370.9C1605.3,379.7 1607.3,380.0 1609.4,386.3C1612.0,394.1 1614.5,408.0 1617.1,417.1C1620.2,428.0 1623.2,446.3 1626.3,446.3C1628.9,446.3 1631.4,445.6 1634.0,444.8C1637.6,443.7 1641.2,441.8 1644.8,437.1C1646.3,435.1 1647.9,424.1 1649.4,420.1C1650.9,416.1 1652.5,410.9 1654.0,410.9C1656.1,410.9 1658.1,418.6 1660.2,418.6C1663.8,418.6 1667.4,414.0 1671.0,414.0C1672.5,414.0 1674.1,422.7 1675.6,429.4C1677.6,438.3 1679.7,457.3 1681.7,469.4C1683.8,481.7 1685.8,491.4 1687.9,503.3C1689.4,512.1 1691.0,519.8 1692.5,531.0C1693.5,538.5 1694.6,544.2 1695.6,558.7C1696.2,567.6 1696.9,594.5 1697.5,611.0C1698.4,634.4 1699.3,660.1 1700.2,677.0C1701.7,705.8 1703.3,743.7 1704.8,744.7C1706.4,745.7 1707.9,746.3 1709.5,746.3C1711.0,746.3 1712.6,734.0 1714.1,723.2C1715.4,713.8 1716.8,695.7 1718.1,677.0C1719.3,659.7 1720.6,631.9 1721.8,611.0C1723.3,585.0 1724.9,564.6 1726.4,537.2C1727.9,509.8 1729.5,476.6 1731.0,444.8C1731.5,433.8 1732.1,415.0 1732.6,410.9C1734.1,399.3 1735.7,397.6 1737.2,392.4C1738.2,388.9 1739.3,383.2 1740.3,383.2C1742.3,383.2 1744.4,384.6 1746.4,386.3C1747.9,387.6 1749.5,390.2 1751.0,395.5C1751.6,397.7 1752.3,402.9 1752.9,410.4C1754.0,423.3 1755.1,479.5 1756.2,507.4C1757.8,547.2 1759.3,570.4 1760.9,611.0C1761.6,630.0 1762.4,657.0 1763.1,677.0C1764.1,705.2 1765.2,728.3 1766.2,754.0C1767.2,779.7 1768.3,808.9 1769.3,831.0C1770.0,846.0 1770.7,864.9 1771.4,871.0C1772.2,878.3 1773.1,884.9 1773.9,884.9C1775.4,884.9 1777.0,875.0 1778.5,868.0C1780.0,861.0 1781.6,849.4 1783.1,840.2C1784.1,834.0 1785.2,828.3 1786.2,821.7C1787.2,815.1 1788.3,805.6 1789.3,800.2C1790.8,792.3 1792.4,783.5 1793.9,781.7C1795.4,779.9 1797.0,780.7 1798.5,778.6C1799.5,777.2 1800.6,752.9 1801.6,738.6C1802.6,724.3 1803.7,714.5 1804.7,692.4C1805.5,676.0 1806.2,637.4 1807.0,611.0C1807.9,581.1 1808.7,555.3 1809.6,523.6C1810.7,484.6 1811.7,430.6 1812.8,394.2C1813.9,356.7 1815.0,308.8 1816.1,297.1C1817.4,283.6 1818.6,272.8 1819.9,272.8C1821.9,272.8 1823.8,306.7 1825.8,323.0C1827.4,336.3 1829.0,351.8 1830.6,361.8C1832.8,375.3 1834.9,390.6 1837.1,394.2C1839.3,397.8 1841.4,397.8 1843.6,400.6C1846.3,404.1 1849.0,410.1 1851.7,416.8C1854.4,423.4 1857.0,436.8 1859.7,442.7C1862.9,449.9 1866.2,452.0 1869.4,458.9C1872.7,465.9 1875.9,480.2 1879.2,488.0C1881.3,493.1 1883.5,494.7 1885.6,501.0C1887.8,507.4 1889.9,536.6 1892.1,536.6C1893.7,536.6 1895.4,531.4 1897.0,523.6C1898.1,518.5 1899.1,492.1 1900.2,475.1C1901.8,449.7 1903.4,431.2 1905.0,394.2C1906.1,368.8 1907.2,303.9 1908.3,280.9C1909.7,251.7 1911.1,219.4 1912.5,219.4C1913.8,219.4 1915.1,246.6 1916.4,255.0C1917.5,261.9 1918.5,263.8 1919.6,271.2C1920.7,278.6 1921.7,295.6 1922.8,306.8C1924.4,324.0 1926.1,343.0 1927.7,355.3C1929.9,371.7 1932.0,382.6 1934.2,394.2C1936.9,408.6 1939.6,417.9 1942.3,433.0C1944.4,444.9 1946.6,464.7 1948.7,475.1C1950.3,483.1 1952.0,486.4 1953.6,494.5C1955.8,505.3 1957.9,515.9 1960.1,539.8C1961.2,552.3 1962.4,586.3 1963.5,611.0C1964.5,632.1 1965.4,656.1 1966.4,677.0C1967.4,698.6 1968.4,718.9 1969.4,738.6C1970.4,758.9 1971.5,789.9 1972.5,797.1C1974.0,807.7 1975.6,814.3 1977.1,815.6C1978.1,816.4 1979.2,817.1 1980.2,817.1C1982.3,817.1 1984.3,792.0 1986.4,784.8C1987.9,779.5 1989.5,777.5 1991.0,772.5C1992.8,766.5 1994.7,749.4 1996.5,749.4C1998.1,749.4 1999.6,755.3 2001.2,760.1C2002.7,764.8 2004.3,772.7 2005.8,781.4C2007.1,788.5 2008.3,797.2 2009.6,808.4C2010.9,819.9 2012.2,844.8 2013.5,854.6C2014.8,864.2 2016.0,875.8 2017.3,875.8C2019.2,875.8 2021.2,871.2 2023.1,866.2C2024.4,862.9 2025.7,853.4 2027.0,846.9C2028.9,837.3 2030.9,818.0 2032.8,818.0C2034.3,818.0 2035.9,864.3 2037.4,864.3C2039.7,864.3 2042.0,855.2 2044.3,846.9C2046.2,840.0 2048.2,824.6 2050.1,812.2C2051.4,803.8 2052.7,791.7 2054.0,785.3C2056.3,774.0 2058.6,760.2 2060.9,760.2C2062.4,760.2 2064.0,761.0 2065.5,762.1C2067.4,763.5 2069.4,783.3 2071.3,787.2C2073.2,791.1 2075.2,794.9 2077.1,794.9C2079.0,794.9 2081.0,786.9 2082.9,777.6C2084.2,771.5 2085.4,747.3 2086.7,739.0C2088.6,726.3 2090.6,729.0 2092.5,712.0C2093.5,702.9 2094.6,627.3 2095.6,611.8C2096.5,598.3 2097.4,595.6 2098.3,584.9C2099.6,569.8 2100.8,556.6 2102.1,527.1C2102.7,512.3 2103.4,471.9 2104.0,450.0C2104.8,423.4 2105.5,402.8 2106.3,381.1C2107.5,347.2 2108.7,306.0 2109.9,285.6C2110.7,272.0 2111.5,258.9 2112.3,254.5C2113.5,247.9 2114.7,242.6 2115.9,242.6C2117.1,242.6 2118.2,263.5 2119.4,273.6C2121.0,287.5 2122.6,300.5 2124.2,314.2C2125.4,324.5 2126.6,337.4 2127.8,345.3C2129.8,358.5 2131.8,367.2 2133.8,376.3C2136.2,387.1 2138.5,394.4 2140.9,405.0C2142.5,412.2 2144.1,421.3 2145.7,428.9C2147.2,436.2 2148.8,444.8 2150.3,450.0C2152.2,456.6 2154.2,459.9 2156.1,465.4C2157.8,470.2 2159.4,473.5 2161.1,480.8C2162.6,487.5 2164.2,505.2 2165.7,515.5C2167.6,528.5 2169.6,535.4 2171.5,550.2C2173.4,565.0 2175.4,585.3 2177.3,611.8C2178.6,629.1 2179.8,654.4 2181.1,681.2C2182.1,703.1 2183.2,727.9 2184.2,758.3C2185.1,784.8 2186.0,834.8 2186.9,854.6C2188.2,883.2 2189.5,914.4 2190.8,914.4C2192.1,914.4 2193.3,886.2 2194.6,873.9C2195.9,861.3 2197.2,850.8 2198.5,839.2" stroke="#5bb33e" stroke-opacity="0.72" clip-path="url(#below)"/></g>
<line x1="71.2" y1="172" x2="71.2" y2="1197.5" stroke="#8cca78" stroke-width="3.2"/>
<line x1="83" y1="1198.5" x2="2200" y2="1198.5" stroke="#dddde6" stroke-width="2.5"/>
<g fill="#7f7f8b" font-size="24">
<line x1="99.0" y1="1198" x2="99.0" y2="1212" stroke="#e6e6ee" stroke-width="2"/>
<text x="99.0" y="1242.4" text-anchor="middle" textLength="92.5" lengthAdjust="spacingAndGlyphs">2018 Jan</text>
<line x1="244.5" y1="1198" x2="244.5" y2="1212" stroke="#e6e6ee" stroke-width="2"/>
<text x="244.5" y="1242.4" text-anchor="middle" textLength="86.3" lengthAdjust="spacingAndGlyphs">2018 Jul</text>
<line x1="392.4" y1="1198" x2="392.4" y2="1212" stroke="#e6e6ee" stroke-width="2"/>
<text x="392.4" y="1242.4" text-anchor="middle" textLength="92.5" lengthAdjust="spacingAndGlyphs">2019 Jan</text>
<line x1="537.9" y1="1198" x2="537.9" y2="1212" stroke="#e6e6ee" stroke-width="2"/>
<text x="537.9" y="1242.4" text-anchor="middle" textLength="86.3" lengthAdjust="spacingAndGlyphs">2019 Jul</text>
<line x1="685.8" y1="1198" x2="685.8" y2="1212" stroke="#e6e6ee" stroke-width="2"/>
<text x="685.8" y="1242.4" text-anchor="middle" textLength="92.5" lengthAdjust="spacingAndGlyphs">2020 Jan</text>
<line x1="832.1" y1="1198" x2="832.1" y2="1212" stroke="#e6e6ee" stroke-width="2"/>
<text x="832.1" y="1242.4" text-anchor="middle" textLength="86.3" lengthAdjust="spacingAndGlyphs">2020 Jul</text>
<line x1="980.0" y1="1198" x2="980.0" y2="1212" stroke="#e6e6ee" stroke-width="2"/>
<text x="980.0" y="1242.4" text-anchor="middle" textLength="92.5" lengthAdjust="spacingAndGlyphs">2021 Jan</text>
<line x1="1125.5" y1="1198" x2="1125.5" y2="1212" stroke="#e6e6ee" stroke-width="2"/>
<text x="1125.5" y="1242.4" text-anchor="middle" textLength="86.3" lengthAdjust="spacingAndGlyphs">2021 Jul</text>
<line x1="1273.5" y1="1198" x2="1273.5" y2="1212" stroke="#e6e6ee" stroke-width="2"/>
<text x="1273.5" y="1242.4" text-anchor="middle" textLength="92.5" lengthAdjust="spacingAndGlyphs">2022 Jan</text>
<line x1="1419.0" y1="1198" x2="1419.0" y2="1212" stroke="#e6e6ee" stroke-width="2"/>
<text x="1419.0" y="1242.4" text-anchor="middle" textLength="86.3" lengthAdjust="spacingAndGlyphs">2022 Jul</text>
<line x1="1566.9" y1="1198" x2="1566.9" y2="1212" stroke="#e6e6ee" stroke-width="2"/>
<text x="1566.9" y="1242.4" text-anchor="middle" textLength="92.5" lengthAdjust="spacingAndGlyphs">2023 Jan</text>
<line x1="1712.4" y1="1198" x2="1712.4" y2="1212" stroke="#e6e6ee" stroke-width="2"/>
<text x="1712.4" y="1242.4" text-anchor="middle" textLength="86.3" lengthAdjust="spacingAndGlyphs">2023 Jul</text>
<line x1="1860.3" y1="1198" x2="1860.3" y2="1212" stroke="#e6e6ee" stroke-width="2"/>
<text x="1860.3" y="1242.4" text-anchor="middle" textLength="92.5" lengthAdjust="spacingAndGlyphs">2024 Jan</text>
<line x1="2006.6" y1="1198" x2="2006.6" y2="1212" stroke="#e6e6ee" stroke-width="2"/>
<text x="2006.6" y="1242.4" text-anchor="middle" textLength="86.3" lengthAdjust="spacingAndGlyphs">2024 Jul</text>
<line x1="2154.5" y1="1198" x2="2154.5" y2="1212" stroke="#e6e6ee" stroke-width="2"/>
<text x="2154.5" y="1242.4" text-anchor="middle" textLength="92.5" lengthAdjust="spacingAndGlyphs">2025 Jan</text>
</g>
<line x1="2211" y1="172" x2="2211" y2="1198" stroke="#333" stroke-width="3"/>
<g fill="#333" font-size="29">
<text x="2233" y="241.1">100K</text>
<text x="2233" y="299.5">80K</text>
<text x="2233" y="376.9">60K</text>
<text x="2233" y="485.5">40K</text>
<text x="2233" y="668.5">20K</text>
<text x="2233" y="855.5">10K</text>
<text x="2233" y="914.5">8K</text>
<text x="2233" y="991.5">6K</text>
<text x="2233" y="1099.5">4K</text>
</g>
<g fill="#333" font-size="30" text-anchor="end">
<text x="48.5" y="387.8">2</text><text x="48.5" y="617.6">0</text><text x="48.5" y="1080">-4</text>
</g>
<rect x="0" y="808" width="72" height="56" fill="#c03a31"/>
<text x="33" y="848.8" text-anchor="middle" font-size="30" fill="#fff">-1.9*</text>
<text x="1987" y="1282.6" font-size="20" fill="#858590" textLength="297" lengthAdjust="spacingAndGlyphs">© CryptoQuant. All rights reserved</text>
</svg></div></body></html>
